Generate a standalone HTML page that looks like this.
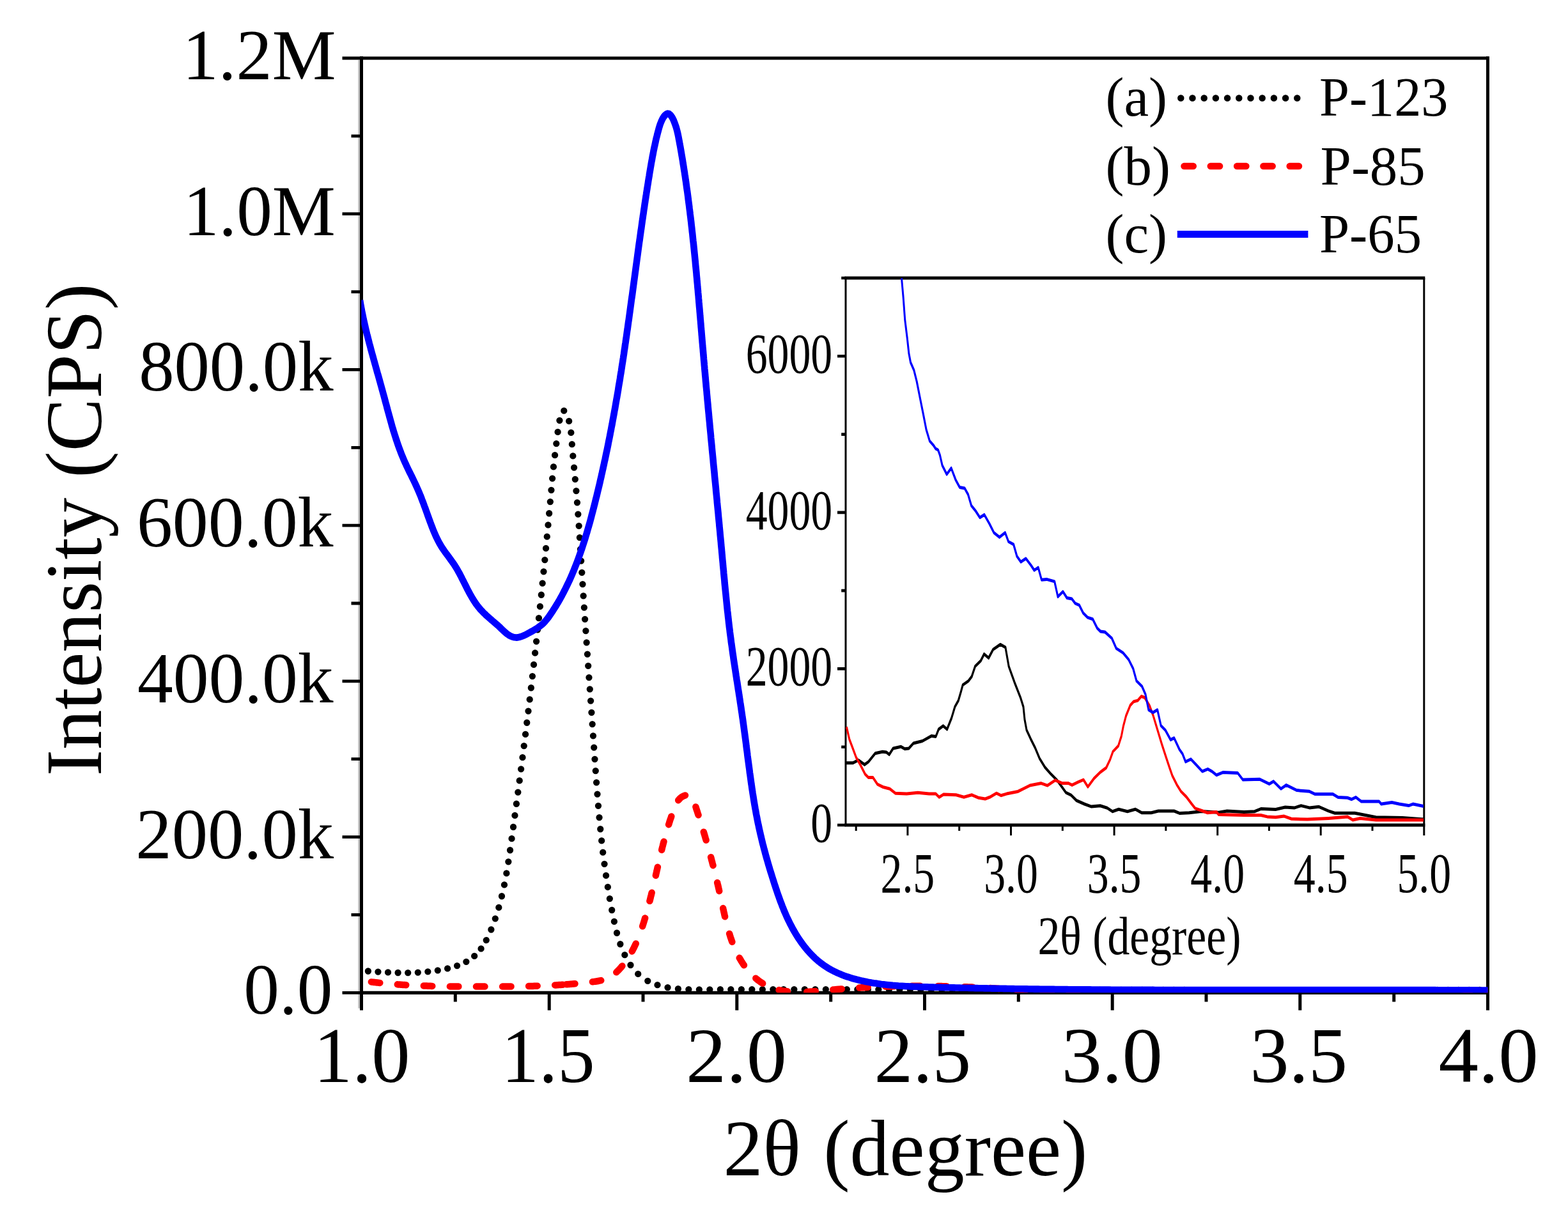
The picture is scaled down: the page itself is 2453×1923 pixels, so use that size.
<!DOCTYPE html>
<html><head><meta charset="utf-8"><title>XRD patterns</title>
<style>
html,body{margin:0;padding:0;background:#fff;}
body{width:2453px;height:1923px;overflow:hidden;}
svg{display:block;}
text{font-family:"Liberation Serif", "Times New Roman", serif;fill:#000;}
</style></head><body>
<svg width="2453" height="1923" viewBox="0 0 2453 1923">
<rect x="0" y="0" width="2453" height="1923" fill="#fff"/>

<rect x="560.2" y="93.7" width="2.8" height="1484" fill="#c0c0c0"/>
<g stroke="#000" fill="none">
<path d="M565.5,91.0 H2327.5 M565.5,1553.3 H2327.5" stroke-width="5.2"/>
<path d="M565.5,88.3 V1556.0 M2327.5,88.3 V1556.0" stroke-width="5.0"/>
<path d="M535.5,1553.3 H565.5 M549.5,1431.4 H565.5 M535.5,1309.6 H565.5 M549.5,1187.7 H565.5 M535.5,1065.9 H565.5 M549.5,944 H565.5 M535.5,822.1 H565.5 M549.5,700.3 H565.5 M535.5,578.4 H565.5 M549.5,456.6 H565.5 M535.5,334.7 H565.5 M549.5,212.9 H565.5 M535.5,91 H565.5" stroke-width="4.8"/>
<path d="M565.5,1553.3 V1580.7 M712.3,1553.3 V1567.5 M859.2,1553.3 V1580.7 M1006,1553.3 V1567.5 M1152.8,1553.3 V1580.7 M1299.7,1553.3 V1567.5 M1446.5,1553.3 V1580.7 M1593.3,1553.3 V1567.5 M1740.2,1553.3 V1580.7 M1887,1553.3 V1567.5 M2033.8,1553.3 V1580.7 M2180.7,1553.3 V1567.5 M2327.5,1553.3 V1580.7" stroke-width="5.0"/>
</g>
<defs><clipPath id="pc"><rect x="565.3" y="91.0" width="1762.2" height="1462.3"/></clipPath><clipPath id="ic"><rect x="1323.0" y="435.0" width="904.8000000000002" height="856.0"/></clipPath></defs>
<g fill="none" stroke-linejoin="round" clip-path="url(#pc)">
<path d="M567.9,1518.9 L569.9,1519.0 L571.9,1519.2 L574.0,1519.3 L576.0,1519.5 L578.0,1519.6 L580.0,1519.8 L582.0,1519.9 L584.0,1520.1 L586.1,1520.2 L588.1,1520.4 L590.1,1520.5 L592.1,1520.6 L594.1,1520.7 L596.1,1520.9 L598.1,1521.0 L600.1,1521.1 L602.1,1521.2 L604.0,1521.3 L606.0,1521.4 L608.0,1521.5 L610.0,1521.6 L612.0,1521.7 L614.0,1521.8 L616.0,1521.8 L617.9,1521.9 L619.9,1522.0 L621.9,1522.0 L623.9,1522.0 L625.9,1522.1 L627.9,1522.1 L629.8,1522.1 L631.8,1522.1 L633.8,1522.1 L635.8,1522.1 L637.8,1522.1 L639.7,1522.1 L641.7,1522.0 L643.7,1522.0 L645.7,1521.9 L647.7,1521.9 L649.6,1521.8 L651.6,1521.7 L653.6,1521.6 L655.6,1521.5 L657.6,1521.4 L659.6,1521.2 L661.6,1521.1 L663.5,1520.9 L665.5,1520.7 L667.5,1520.5 L669.5,1520.3 L671.5,1520.1 L673.5,1519.9 L675.5,1519.6 L677.5,1519.4 L679.5,1519.1 L681.5,1518.8 L683.5,1518.5 L685.5,1518.2 L687.5,1517.9 L689.6,1517.5 L691.6,1517.1 L693.6,1516.8 L695.6,1516.3 L697.6,1515.9 L699.6,1515.5 L701.6,1515.0 L703.6,1514.5 L705.6,1514.0 L707.5,1513.4 L709.5,1512.9 L711.4,1512.3 L713.3,1511.6 L715.2,1511.0 L717.1,1510.3 L719.0,1509.6 L720.9,1508.8 L722.7,1508.1 L724.5,1507.2 L726.3,1506.4 L728.0,1505.5 L729.8,1504.6 L731.5,1503.6 L733.1,1502.6 L734.8,1501.6 L736.4,1500.5 L737.9,1499.4 L739.5,1498.2 L741.0,1497.0 L742.4,1495.7 L743.8,1494.4 L745.2,1493.1 L746.6,1491.7 L747.9,1490.3 L749.1,1488.8 L750.4,1487.3 L751.6,1485.8 L752.7,1484.2 L753.9,1482.6 L755.0,1481.0 L756.1,1479.3 L757.1,1477.6 L758.1,1475.9" stroke="#000" stroke-width="10.3" stroke-linecap="round" stroke-dasharray="0 15.6" stroke-dashoffset="7.60"/>
<path d="M758.1,1475.9 L759.1,1474.2 L760.1,1472.4 L761.0,1470.6 L762.0,1468.8 L762.9,1467.0 L763.7,1465.2 L764.6,1463.3 L765.4,1461.5 L766.3,1459.6 L767.1,1457.7 L767.9,1455.8 L768.6,1453.9 L769.4,1452.0 L770.1,1450.1 L770.9,1448.2 L771.6,1446.3 L772.3,1444.4 L773.0,1442.5 L773.7,1440.6 L774.3,1438.7 L775.0,1436.8 L775.7,1434.9 L776.3,1433.0 L776.9,1431.1 L777.5,1429.2 L778.1,1427.2 L778.7,1425.3 L779.3,1423.4 L779.9,1421.5 L780.4,1419.6 L781.0,1417.6 L781.5,1415.7 L782.0,1413.8 L782.6,1411.8 L783.1,1409.9 L783.6,1408.0 L784.1,1406.0 L784.5,1404.1 L785.0,1402.1 L785.5,1400.2 L785.9,1398.3 L786.4,1396.3 L786.8,1394.4 L787.3,1392.4 L787.7,1390.5 L788.1,1388.5 L788.5,1386.6 L788.9,1384.6 L789.3,1382.7 L789.7,1380.7 L790.1,1378.8 L790.5,1376.8 L790.9,1374.8 L791.2,1372.9 L791.6,1370.9 L791.9,1369.0 L792.3,1367.0 L792.6,1365.0 L793.0,1363.1 L793.3,1361.1 L793.6,1359.1 L794.0,1357.2 L794.3,1355.2 L794.6,1353.2 L794.9,1351.3 L795.2,1349.3 L795.5,1347.3 L795.8,1345.4 L796.1,1343.4 L796.4,1341.4 L796.7,1339.5 L797.0,1337.5 L797.3,1335.5 L797.6,1333.5 L797.8,1331.6 L798.1,1329.6 L798.4,1327.6 L798.7,1325.6 L798.9,1323.7 L799.2,1321.7 L799.5,1319.7 L799.8,1317.7 L800.0,1315.7 L800.3,1313.8 L800.6,1311.8 L800.8,1309.8 L801.1,1307.8 L801.4,1305.9 L801.6,1303.9 L801.9,1301.9 L802.2,1299.9 L802.5,1297.9 L802.7,1296.0 L803.0,1294.0 L803.3,1292.0 L803.5,1290.0 L803.8,1288.0 L804.1,1286.1 L804.3,1284.1 L804.6,1282.1 L804.9,1280.1 L805.1,1278.1 L805.4,1276.2 L805.7,1274.2 L805.9,1272.2 L806.2,1270.2 L806.5,1268.2 L806.7,1266.2 L807.0,1264.3 L807.3,1262.3 L807.5,1260.3 L807.8,1258.3 L808.1,1256.3 L808.3,1254.4 L808.6,1252.4 L808.9,1250.4 L809.1,1248.4 L809.4,1246.4 L809.7,1244.4 L809.9,1242.5 L810.2,1240.5 L810.5,1238.5 L810.7,1236.5 L811.0,1234.5 L811.2,1232.6 L811.5,1230.6 L811.8,1228.6 L812.0,1226.6 L812.3,1224.6 L812.6,1222.6 L812.8,1220.7 L813.1,1218.7 L813.3,1216.7 L813.6,1214.7 L813.9,1212.7 L814.1,1210.7 L814.4,1208.8 L814.6,1206.8 L814.9,1204.8 L815.2,1202.8 L815.4,1200.8 L815.7,1198.8 L815.9,1196.9 L816.2,1194.9 L816.4,1192.9 L816.7,1190.9 L817.0,1188.9 L817.2,1186.9 L817.5,1185.0 L817.7,1183.0 L818.0,1181.0 L818.2,1179.0 L818.5,1177.0 L818.7,1175.0 L819.0,1173.1 L819.2,1171.1 L819.5,1169.1 L819.7,1167.1 L820.0,1165.1 L820.2,1163.1 L820.5,1161.1 L820.7,1159.2 L821.0,1157.2 L821.2,1155.2 L821.5,1153.2 L821.7,1151.2 L822.0,1149.2 L822.2,1147.3 L822.5,1145.3 L822.7,1143.3 L823.0,1141.3 L823.2,1139.3 L823.5,1137.3 L823.7,1135.4 L824.0,1133.4 L824.2,1131.4 L824.4,1129.4 L824.7,1127.4 L824.9,1125.4 L825.2,1123.5 L825.4,1121.5 L825.7,1119.5 L825.9,1117.5 L826.1,1115.5 L826.4,1113.5 L826.6,1111.6 L826.9,1109.6 L827.1,1107.6 L827.3,1105.6 L827.6,1103.6 L827.8,1101.6 L828.0,1099.7 L828.3,1097.7 L828.5,1095.7 L828.8,1093.7 L829.0,1091.7 L829.2,1089.7 L829.5,1087.7 L829.7,1085.8 L829.9,1083.8 L830.2,1081.8 L830.4,1079.8 L830.6,1077.8 L830.9,1075.8 L831.1,1073.9 L831.3,1071.9 L831.6,1069.9 L831.8,1067.9 L832.0,1065.9 L832.2,1063.9 L832.5,1062.0 L832.7,1060.0 L832.9,1058.0 L833.2,1056.0 L833.4,1054.0 L833.6,1052.0 L833.8,1050.0 L834.1,1048.1 L834.3,1046.1 L834.5,1044.1 L834.8,1042.1 L835.0,1040.1 L835.2,1038.1 L835.4,1036.2 L835.6,1034.2 L835.9,1032.2 L836.1,1030.2 L836.3,1028.2 L836.5,1026.2 L836.8,1024.2 L837.0,1022.3 L837.2,1020.3 L837.4,1018.3 L837.6,1016.3 L837.9,1014.3 L838.1,1012.3 L838.3,1010.3 L838.5,1008.4 L838.7,1006.4 L839.0,1004.4 L839.2,1002.4 L839.4,1000.4 L839.6,998.4 L839.8,996.4 L840.1,994.5 L840.3,992.5 L840.5,990.5 L840.7,988.5 L840.9,986.5 L841.1,984.5 L841.3,982.5 L841.6,980.5 L841.8,978.6 L842.0,976.6 L842.2,974.6 L842.4,972.6 L842.6,970.6 L842.8,968.6 L843.0,966.6 L843.3,964.7 L843.5,962.7 L843.7,960.7 L843.9,958.7 L844.1,956.7 L844.3,954.7 L844.5,952.7 L844.7,950.7 L844.9,948.8 L845.1,946.8 L845.3,944.8 L845.5,942.8 L845.8,940.8 L846.0,938.8 L846.2,936.8 L846.4,934.8 L846.6,932.9 L846.8,930.9 L847.0,928.9 L847.2,926.9 L847.4,924.9 L847.6,922.9 L847.8,920.9 L848.0,918.9 L848.2,916.9 L848.4,915.0 L848.6,913.0 L848.8,911.0 L849.0,909.0 L849.2,907.0 L849.4,905.0 L849.6,903.0 L849.8,901.0 L850.0,899.0 L850.2,897.1 L850.4,895.1 L850.6,893.1 L850.8,891.1 L851.0,889.1 L851.2,887.1 L851.4,885.1 L851.6,883.1 L851.8,881.1 L852.0,879.1 L852.2,877.2 L852.4,875.2 L852.6,873.2 L852.7,871.2 L852.9,869.2 L853.1,867.2 L853.3,865.2 L853.5,863.2 L853.7,861.2 L853.9,859.2 L854.1,857.2 L854.3,855.3 L854.5,853.3 L854.7,851.3 L854.9,849.3 L855.0,847.3 L855.2,845.3 L855.4,843.3 L855.6,841.3 L855.8,839.3 L856.0,837.3 L856.2,835.3 L856.4,833.4 L856.5,831.4 L856.7,829.4 L856.9,827.4 L857.1,825.4 L857.3,823.4 L857.5,821.4 L857.7,819.4 L857.8,817.4 L858.0,815.4 L858.2,813.4 L858.4,811.5 L858.6,809.5 L858.8,807.5 L858.9,805.5 L859.1,803.5 L859.3,801.5 L859.5,799.5 L859.7,797.5 L859.9,795.5 L860.0,793.5 L860.2,791.5 L860.4,789.6 L860.6,787.6 L860.8,785.6 L860.9,783.6 L861.1,781.6 L861.3,779.6 L861.5,777.6 L861.6,775.6 L861.8,773.6 L862.0,771.6 L862.2,769.6 L862.4,767.7 L862.5,765.7 L862.7,763.7 L862.9,761.7 L863.1,759.7 L863.2,757.7 L863.4,755.7 L863.6,753.7 L863.8,751.7 L864.0,749.7 L864.2,747.8 L864.4,745.8 L864.5,743.8 L864.7,741.8 L864.9,739.8 L865.1,737.8 L865.4,735.8 L865.6,733.8 L865.8,731.8 L866.0,729.8 L866.2,727.8 L866.5,725.8 L866.7,723.9 L866.9,721.9 L867.2,719.9 L867.4,717.9 L867.6,715.9 L867.9,713.9 L868.1,711.9 L868.4,710.0 L868.6,708.0 L868.9,706.0 L869.1,704.1 L869.3,702.1 L869.6,700.2 L869.8,698.2 L870.0,696.3 L870.3,694.3 L870.5,692.4 L870.7,690.4 L871.0,688.5 L871.2,686.5 L871.5,684.6 L871.7,682.6 L872.0,680.6 L872.2,678.6 L872.5,676.6 L872.8,674.5 L873.1,672.4 L873.4,670.3 L873.7,668.1 L874.0,665.9 L874.4,663.7 L874.8,661.4 L875.2,659.1 L875.6,656.7 L876.1,654.4 L876.5,652.1 L877.1,650.0 L877.6,648.0 L878.2,646.2 L878.8,644.7 L879.5,643.5 L880.2,642.7 L881.0,642.3 L881.8,642.4 L882.6,642.9 L883.5,643.8 L884.4,645.0 L885.3,646.5 L886.2,648.1 L887.0,649.9 L887.8,651.8 L888.5,653.7 L889.2,655.6 L889.8,657.6 L890.3,659.5 L890.8,661.5 L891.3,663.5 L891.7,665.5 L892.1,667.5 L892.4,669.5 L892.7,671.5 L892.9,673.5 L893.2,675.6 L893.4,677.6 L893.6,679.6 L893.8,681.7 L893.9,683.7 L894.1,685.8 L894.3,687.8 L894.4,689.8 L894.6,691.9 L894.7,693.9 L894.9,695.9 L895.0,698.0 L895.2,700.0 L895.4,702.0 L895.5,704.0 L895.7,706.0 L895.9,708.0 L896.0,710.0 L896.2,712.1 L896.4,714.1 L896.6,716.1 L896.8,718.1 L896.9,720.0 L897.1,722.0 L897.3,724.0 L897.5,726.0 L897.7,728.0 L897.9,730.0 L898.1,732.0 L898.3,734.0 L898.4,735.9 L898.6,737.9 L898.8,739.9 L899.0,741.9 L899.2,743.9 L899.4,745.8 L899.6,747.8 L899.8,749.8 L900.0,751.8 L900.1,753.8 L900.3,755.7 L900.5,757.7 L900.7,759.7 L900.9,761.7 L901.1,763.6 L901.2,765.6 L901.4,767.6 L901.6,769.6 L901.8,771.6 L901.9,773.5 L902.1,775.5 L902.3,777.5 L902.4,779.5 L902.6,781.5 L902.7,783.5 L902.9,785.5 L903.1,787.4 L903.2,789.4 L903.4,791.4 L903.5,793.4 L903.7,795.4 L903.8,797.4 L904.0,799.4 L904.1,801.4 L904.3,803.4 L904.4,805.3 L904.6,807.3 L904.7,809.3 L904.9,811.3 L905.0,813.3 L905.1,815.3 L905.3,817.3 L905.4,819.3 L905.5,821.3 L905.7,823.3 L905.8,825.3 L906.0,827.3 L906.1,829.3 L906.2,831.3 L906.4,833.3 L906.5,835.3 L906.6,837.3 L906.7,839.3 L906.9,841.3 L907.0,843.2 L907.1,845.2 L907.3,847.2 L907.4,849.2 L907.5,851.2 L907.6,853.2 L907.8,855.2 L907.9,857.2 L908.0,859.2 L908.1,861.2 L908.3,863.2 L908.4,865.2 L908.5,867.2 L908.6,869.2 L908.8,871.2 L908.9,873.2 L909.0,875.2 L909.1,877.2 L909.3,879.2 L909.4,881.2 L909.5,883.2 L909.6,885.2 L909.8,887.2 L909.9,889.2 L910.0,891.2 L910.1,893.2 L910.3,895.2 L910.4,897.2 L910.5,899.2 L910.7,901.2 L910.8,903.2 L910.9,905.2 L911.0,907.2 L911.2,909.2 L911.3,911.2 L911.4,913.2 L911.6,915.2 L911.7,917.2 L911.8,919.2 L911.9,921.2 L912.1,923.2 L912.2,925.2 L912.3,927.2 L912.5,929.1 L912.6,931.1 L912.7,933.1 L912.9,935.1 L913.0,937.1 L913.1,939.1 L913.3,941.1 L913.4,943.1 L913.5,945.1 L913.7,947.1 L913.8,949.1 L913.9,951.1 L914.1,953.1 L914.2,955.1 L914.3,957.1 L914.5,959.1 L914.6,961.1 L914.7,963.1 L914.9,965.1 L915.0,967.0 L915.1,969.0 L915.3,971.0 L915.4,973.0 L915.6,975.0 L915.7,977.0 L915.8,979.0 L916.0,981.0 L916.1,983.0 L916.2,985.0 L916.4,987.0 L916.5,989.0 L916.7,991.0 L916.8,993.0 L916.9,995.0 L917.1,997.0 L917.2,998.9 L917.3,1000.9 L917.5,1002.9 L917.6,1004.9 L917.8,1006.9 L917.9,1008.9 L918.0,1010.9 L918.2,1012.9 L918.3,1014.9 L918.5,1016.9 L918.6,1018.9 L918.7,1020.9 L918.9,1022.9 L919.0,1024.8 L919.2,1026.8 L919.3,1028.8 L919.4,1030.8 L919.6,1032.8 L919.7,1034.8 L919.9,1036.8 L920.0,1038.8 L920.1,1040.8 L920.3,1042.8 L920.4,1044.8 L920.6,1046.8 L920.7,1048.8 L920.8,1050.7 L921.0,1052.7 L921.1,1054.7 L921.3,1056.7 L921.4,1058.7 L921.5,1060.7 L921.7,1062.7 L921.8,1064.7 L922.0,1066.7 L922.1,1068.7 L922.3,1070.7 L922.4,1072.7 L922.5,1074.7 L922.7,1076.6 L922.8,1078.6 L923.0,1080.6 L923.1,1082.6 L923.2,1084.6 L923.4,1086.6 L923.5,1088.6 L923.7,1090.6 L923.8,1092.6 L924.0,1094.6 L924.1,1096.6 L924.2,1098.6 L924.4,1100.6 L924.5,1102.6 L924.7,1104.5 L924.8,1106.5 L924.9,1108.5 L925.1,1110.5 L925.2,1112.5 L925.4,1114.5 L925.5,1116.5 L925.6,1118.5 L925.8,1120.5 L925.9,1122.5 L926.1,1124.5 L926.2,1126.5 L926.3,1128.5 L926.5,1130.5 L926.6,1132.4 L926.8,1134.4 L926.9,1136.4 L927.1,1138.4 L927.2,1140.4 L927.3,1142.4 L927.5,1144.4 L927.6,1146.4 L927.8,1148.4 L927.9,1150.4 L928.0,1152.4 L928.2,1154.4 L928.3,1156.4 L928.4,1158.4 L928.6,1160.4 L928.7,1162.4 L928.9,1164.3 L929.0,1166.3 L929.1,1168.3 L929.3,1170.3 L929.4,1172.3 L929.6,1174.3 L929.7,1176.3 L929.8,1178.3 L930.0,1180.3 L930.1,1182.3 L930.2,1184.3 L930.4,1186.3 L930.5,1188.3 L930.7,1190.3 L930.8,1192.3 L930.9,1194.3 L931.1,1196.3 L931.2,1198.3 L931.4,1200.3 L931.5,1202.3 L931.6,1204.3 L931.8,1206.2 L931.9,1208.2 L932.1,1210.2 L932.2,1212.2 L932.4,1214.2 L932.5,1216.2 L932.7,1218.2 L932.8,1220.2 L932.9,1222.2 L933.1,1224.2 L933.2,1226.2 L933.4,1228.2 L933.5,1230.2 L933.7,1232.2 L933.8,1234.2 L934.0,1236.2 L934.1,1238.2 L934.3,1240.2 L934.5,1242.2 L934.6,1244.2 L934.8,1246.1 L934.9,1248.1 L935.1,1250.1 L935.2,1252.1 L935.4,1254.1 L935.6,1256.1 L935.7,1258.1 L935.9,1260.1 L936.1,1262.1 L936.2,1264.1 L936.4,1266.1 L936.6,1268.1 L936.8,1270.1 L936.9,1272.1 L937.1,1274.0 L937.3,1276.0 L937.5,1278.0 L937.6,1280.0 L937.8,1282.0 L938.0,1284.0 L938.2,1286.0 L938.4,1288.0 L938.6,1290.0 L938.8,1292.0 L939.0,1294.0 L939.2,1295.9 L939.3,1297.9 L939.5,1299.9 L939.7,1301.9 L940.0,1303.9 L940.2,1305.9 L940.4,1307.9 L940.6,1309.9 L940.8,1311.8 L941.0,1313.8 L941.2,1315.8 L941.4,1317.8 L941.6,1319.8 L941.9,1321.8 L942.1,1323.8 L942.3,1325.7 L942.5,1327.7 L942.8,1329.7 L943.0,1331.7 L943.2,1333.7 L943.5,1335.7 L943.7,1337.6 L944.0,1339.6 L944.2,1341.6 L944.5,1343.6 L944.7,1345.6 L945.0,1347.6 L945.2,1349.5 L945.5,1351.5 L945.8,1353.5 L946.0,1355.5 L946.3,1357.4 L946.6,1359.4 L946.8,1361.4 L947.1,1363.4 L947.4,1365.4 L947.7,1367.3 L948.0,1369.3 L948.2,1371.3 L948.5,1373.3 L948.8,1375.2 L949.1,1377.2 L949.4,1379.2 L949.7,1381.2 L950.0,1383.1 L950.3,1385.1 L950.7,1387.1 L951.0,1389.0 L951.3,1391.0 L951.6,1393.0 L952.0,1395.0 L952.3,1396.9 L952.6,1398.9 L953.0,1400.9 L953.3,1402.8 L953.6,1404.8 L954.0,1406.8 L954.3,1408.7 L954.7,1410.7 L955.1,1412.7 L955.4,1414.6 L955.8,1416.6 L956.2,1418.5 L956.5,1420.5 L956.9,1422.5 L957.3,1424.4 L957.7,1426.4 L958.1,1428.3 L958.5,1430.3 L958.9,1432.3 L959.3,1434.2 L959.7,1436.2 L960.1,1438.1 L960.5,1440.1 L960.9,1442.0 L961.3,1444.0 L961.8,1446.0 L962.2,1447.9 L962.7,1449.9 L963.1,1451.8 L963.6,1453.7 L964.0,1455.7 L964.5,1457.6 L965.0,1459.6 L965.5,1461.5 L966.1,1463.4 L966.6,1465.3 L967.1,1467.2 L967.7,1469.1 L968.3,1471.1 L968.9,1472.9 L969.5,1474.8 L970.2,1476.7 L970.8,1478.6 L971.5,1480.5 L972.2,1482.3 L972.9,1484.2 L973.7,1486.0 L974.5,1487.9 L975.2,1489.7 L976.1,1491.5 L976.9,1493.3 L977.8,1495.1 L978.7,1496.9 L979.6,1498.7 L980.6,1500.5 L981.6,1502.2 L982.6,1504.0 L983.7,1505.7 L984.8,1507.4 L985.9,1509.1 L987.0,1510.8 L988.2,1512.5 L989.4,1514.1 L990.7,1515.7 L992.0,1517.3 L993.3,1518.8 L994.7,1520.4 L996.1,1521.8 L997.5,1523.3 L999.0,1524.7 L1000.4,1526.0" stroke="#000" stroke-width="10.3" stroke-linecap="round" stroke-dasharray="0 18.3" stroke-dashoffset="12.84"/>
<path d="M1000.4,1526.0 L1002.0,1527.4 L1003.6,1528.6 L1005.2,1529.8 L1006.8,1531.0 L1008.5,1532.1 L1010.2,1533.1 L1011.9,1534.1 L1013.7,1535.1 L1015.5,1536.0 L1017.3,1536.8 L1019.1,1537.6 L1021.0,1538.4 L1022.8,1539.1 L1024.7,1539.8 L1026.6,1540.5 L1028.4,1541.1 L1030.3,1541.7 L1032.2,1542.2 L1034.1,1542.7 L1036.0,1543.2 L1037.9,1543.7 L1039.8,1544.1 L1041.7,1544.5 L1043.7,1544.9 L1045.6,1545.3 L1047.5,1545.6 L1049.5,1545.9 L1051.4,1546.2 L1053.4,1546.4 L1055.3,1546.7 L1057.3,1546.9 L1059.3,1547.1 L1061.2,1547.3 L1063.2,1547.4 L1065.2,1547.6 L1067.2,1547.7 L1069.2,1547.8 L1071.1,1547.9 L1073.1,1548.0 L1075.1,1548.0 L1077.1,1548.1 L1079.1,1548.1 L1081.1,1548.2 L1083.1,1548.2 L1085.1,1548.2 L1087.1,1548.3 L1089.1,1548.3 L1091.1,1548.3 L1093.1,1548.3 L1095.1,1548.3 L1097.2,1548.3 L1099.2,1548.3 L1101.2,1548.3 L1103.2,1548.3 L1105.2,1548.3 L1107.2,1548.3 L1109.2,1548.3 L1111.2,1548.3 L1113.2,1548.2 L1115.2,1548.2 L1117.2,1548.2 L1119.2,1548.2 L1121.2,1548.2 L1123.2,1548.2 L1125.2,1548.2 L1127.3,1548.2 L1129.3,1548.2 L1131.3,1548.2 L1133.3,1548.2 L1135.3,1548.2 L1137.3,1548.2 L1139.3,1548.2 L1141.3,1548.2 L1143.3,1548.2 L1145.3,1548.2 L1147.3,1548.2 L1149.3,1548.2 L1151.3,1548.2 L1153.3,1548.2 L1155.3,1548.2 L1157.3,1548.2 L1159.3,1548.2 L1161.4,1548.2 L1163.4,1548.2 L1165.4,1548.2 L1167.4,1548.2 L1169.4,1548.2 L1171.4,1548.2 L1173.4,1548.2 L1175.4,1548.2 L1177.4,1548.2 L1179.4,1548.2 L1181.4,1548.2 L1183.4,1548.2 L1185.4,1548.2 L1187.4,1548.2 L1189.4,1548.2 L1191.4,1548.2 L1193.4,1548.2 L1195.4,1548.2 L1197.4,1548.1 L1199.4,1548.1 L1201.4,1548.1 L1203.4,1548.1 L1205.4,1548.1 L1207.5,1548.1 L1209.5,1548.1 L1211.5,1548.1 L1213.5,1548.1 L1215.5,1548.1 L1217.5,1548.1 L1219.5,1548.1 L1221.5,1548.1 L1223.5,1548.1 L1225.5,1548.1 L1227.5,1548.1 L1229.5,1548.1 L1231.5,1548.1 L1233.5,1548.1 L1235.5,1548.1 L1237.5,1548.1 L1239.5,1548.1 L1241.5,1548.1 L1243.5,1548.1 L1245.5,1548.1 L1247.5,1548.1 L1249.5,1548.1 L1251.5,1548.1 L1253.5,1548.1 L1255.5,1548.1 L1257.5,1548.1 L1259.5,1548.1 L1261.5,1548.1 L1263.5,1548.1 L1265.5,1548.1 L1267.5,1548.1 L1269.5,1548.1 L1271.5,1548.1 L1273.5,1548.1 L1275.5,1548.1 L1277.5,1548.1 L1279.5,1548.1 L1281.5,1548.1 L1283.5,1548.1 L1285.5,1548.1 L1287.5,1548.1 L1289.5,1548.1 L1291.5,1548.1 L1293.5,1548.1 L1295.5,1548.1 L1297.5,1548.1 L1299.5,1548.1 L1301.5,1548.1 L1303.6,1548.1 L1305.6,1548.1 L1307.6,1548.1 L1309.6,1548.1 L1311.6,1548.1 L1313.6,1548.1 L1315.6,1548.1 L1317.6,1548.1 L1319.6,1548.1 L1321.6,1548.1 L1323.6,1548.1 L1325.6,1548.1 L1327.6,1548.1 L1329.6,1548.1 L1331.6,1548.2 L1333.6,1548.2 L1335.6,1548.2 L1337.6,1548.2 L1339.6,1548.2 L1341.6,1548.2 L1343.6,1548.2 L1345.6,1548.2 L1347.6,1548.2 L1349.6,1548.2 L1351.6,1548.2 L1353.6,1548.2 L1355.6,1548.2 L1357.6,1548.2 L1359.5,1548.2 L1361.5,1548.2 L1363.5,1548.2 L1365.5,1548.2 L1367.5,1548.2 L1369.5,1548.2 L1371.5,1548.2 L1373.5,1548.2 L1375.5,1548.2 L1377.5,1548.2 L1379.5,1548.2 L1381.5,1548.2 L1383.5,1548.2 L1385.5,1548.2 L1387.5,1548.2 L1389.5,1548.2 L1391.5,1548.2 L1393.5,1548.2 L1395.5,1548.2 L1397.5,1548.2 L1399.5,1548.2 L1401.5,1548.2 L1403.5,1548.2 L1405.5,1548.2 L1407.5,1548.2 L1409.5,1548.2 L1411.5,1548.2 L1413.5,1548.2 L1415.5,1548.2 L1417.5,1548.2 L1419.5,1548.2 L1421.5,1548.2 L1423.5,1548.2 L1425.5,1548.2 L1427.5,1548.2 L1429.5,1548.2 L1431.5,1548.3 L1433.5,1548.3 L1435.5,1548.3 L1437.5,1548.3 L1439.5,1548.3 L1441.5,1548.3 L1443.5,1548.3 L1445.5,1548.3 L1447.5,1548.3 L1449.5,1548.3 L1451.5,1548.3 L1453.5,1548.3 L1455.5,1548.3 L1457.5,1548.3 L1459.5,1548.3 L1461.5,1548.3 L1463.5,1548.3 L1465.5,1548.3 L1467.5,1548.3 L1469.5,1548.3 L1471.4,1548.3 L1473.4,1548.3 L1475.4,1548.3 L1477.4,1548.3 L1479.4,1548.3 L1481.4,1548.3 L1483.4,1548.3 L1485.4,1548.3 L1487.4,1548.3 L1489.4,1548.3 L1491.4,1548.3 L1493.4,1548.3 L1495.4,1548.3 L1497.4,1548.4 L1499.4,1548.4 L1501.4,1548.4 L1503.4,1548.4 L1505.4,1548.4 L1507.4,1548.4 L1509.4,1548.4 L1511.4,1548.4 L1513.4,1548.4 L1515.4,1548.4 L1517.4,1548.4 L1519.4,1548.4 L1521.4,1548.4 L1523.4,1548.4 L1525.4,1548.4 L1527.4,1548.4 L1529.4,1548.4 L1531.4,1548.4 L1533.3,1548.4 L1535.3,1548.4 L1537.3,1548.4 L1539.3,1548.4 L1541.3,1548.4 L1543.3,1548.4 L1545.3,1548.4 L1547.3,1548.4 L1549.3,1548.4 L1551.3,1548.4 L1553.3,1548.5 L1555.3,1548.5 L1557.3,1548.5 L1559.3,1548.5 L1561.3,1548.5 L1563.3,1548.5 L1565.3,1548.5 L1567.3,1548.5 L1569.3,1548.5 L1571.3,1548.5 L1573.3,1548.5 L1575.3,1548.5 L1577.3,1548.5 L1579.3,1548.5 L1581.3,1548.5 L1583.3,1548.5 L1585.2,1548.5 L1587.2,1548.5 L1589.2,1548.5 L1591.2,1548.5 L1593.2,1548.5 L1595.2,1548.5 L1597.2,1548.5 L1599.2,1548.5 L1601.2,1548.5 L1603.2,1548.5 L1605.2,1548.6 L1607.2,1548.6 L1609.2,1548.6 L1611.2,1548.6 L1613.2,1548.6 L1615.2,1548.6 L1617.2,1548.6 L1619.2,1548.6 L1621.2,1548.6 L1623.2,1548.6 L1625.2,1548.6 L1627.2,1548.6 L1629.2,1548.6 L1631.1,1548.6 L1633.1,1548.6 L1635.1,1548.6 L1637.1,1548.6 L1639.1,1548.6 L1641.1,1548.6 L1643.1,1548.6 L1645.1,1548.6 L1647.1,1548.6 L1649.1,1548.6 L1651.1,1548.6 L1653.1,1548.6 L1655.1,1548.7 L1657.1,1548.7 L1659.1,1548.7 L1661.1,1548.7 L1663.1,1548.7 L1665.1,1548.7 L1667.1,1548.7 L1669.1,1548.7 L1671.1,1548.7 L1673.1,1548.7 L1675.1,1548.7 L1677.0,1548.7 L1679.0,1548.7 L1681.0,1548.7 L1683.0,1548.7 L1685.0,1548.7 L1687.0,1548.7 L1689.0,1548.7 L1691.0,1548.7 L1693.0,1548.7 L1695.0,1548.7 L1697.0,1548.7 L1699.0,1548.7 L1701.0,1548.7 L1703.0,1548.7 L1705.0,1548.8 L1707.0,1548.8 L1709.0,1548.8 L1711.0,1548.8 L1713.0,1548.8 L1715.0,1548.8 L1717.0,1548.8 L1719.0,1548.8 L1720.9,1548.8 L1722.9,1548.8 L1724.9,1548.8 L1726.9,1548.8 L1728.9,1548.8 L1730.9,1548.8 L1732.9,1548.8 L1734.9,1548.8 L1736.9,1548.8 L1738.9,1548.8 L1740.9,1548.8 L1742.9,1548.8 L1744.9,1548.8 L1746.9,1548.8 L1748.9,1548.8 L1750.9,1548.8 L1752.9,1548.8 L1754.9,1548.9 L1756.9,1548.9 L1758.9,1548.9 L1760.9,1548.9 L1762.9,1548.9 L1764.9,1548.9 L1766.8,1548.9 L1768.8,1548.9 L1770.8,1548.9 L1772.8,1548.9 L1774.8,1548.9 L1776.8,1548.9 L1778.8,1548.9 L1780.8,1548.9 L1782.8,1548.9 L1784.8,1548.9 L1786.8,1548.9 L1788.8,1548.9 L1790.8,1548.9 L1792.8,1548.9 L1794.8,1548.9 L1796.8,1548.9 L1798.8,1548.9 L1800.8,1548.9 L1802.8,1548.9 L1804.8,1548.9 L1806.8,1548.9 L1808.8,1549.0 L1810.8,1549.0 L1812.7,1549.0 L1814.7,1549.0 L1816.7,1549.0 L1818.7,1549.0 L1820.7,1549.0 L1822.7,1549.0 L1824.7,1549.0 L1826.7,1549.0 L1828.7,1549.0 L1830.7,1549.0 L1832.7,1549.0 L1834.7,1549.0 L1836.7,1549.0 L1838.7,1549.0 L1840.7,1549.0 L1842.7,1549.0 L1844.7,1549.0 L1846.7,1549.0 L1848.7,1549.0 L1850.7,1549.0 L1852.7,1549.0 L1854.7,1549.0 L1856.7,1549.0 L1858.7,1549.0 L1860.7,1549.0 L1862.7,1549.0 L1864.6,1549.0 L1866.6,1549.0 L1868.6,1549.1 L1870.6,1549.1 L1872.6,1549.1 L1874.6,1549.1 L1876.6,1549.1 L1878.6,1549.1 L1880.6,1549.1 L1882.6,1549.1 L1884.6,1549.1 L1886.6,1549.1 L1888.6,1549.1 L1890.6,1549.1 L1892.6,1549.1 L1894.6,1549.1 L1896.6,1549.1 L1898.6,1549.1 L1900.6,1549.1 L1902.6,1549.1 L1904.6,1549.1 L1906.6,1549.1 L1908.6,1549.1 L1910.6,1549.1 L1912.6,1549.1 L1914.6,1549.1 L1916.6,1549.1 L1918.6,1549.1 L1920.6,1549.1 L1922.6,1549.1 L1924.6,1549.1 L1926.5,1549.1 L1928.5,1549.1 L1930.5,1549.1 L1932.5,1549.1 L1934.5,1549.1 L1936.5,1549.1 L1938.5,1549.1 L1940.5,1549.1 L1942.5,1549.1 L1944.5,1549.2 L1946.5,1549.2 L1948.5,1549.2 L1950.5,1549.2 L1952.5,1549.2 L1954.5,1549.2 L1956.5,1549.2 L1958.5,1549.2 L1960.5,1549.2 L1962.5,1549.2 L1964.5,1549.2 L1966.5,1549.2 L1968.5,1549.2 L1970.5,1549.2 L1972.5,1549.2 L1974.5,1549.2 L1976.5,1549.2 L1978.5,1549.2 L1980.5,1549.2 L1982.5,1549.2 L1984.5,1549.2 L1986.5,1549.2 L1988.5,1549.2 L1990.5,1549.2 L1992.5,1549.2 L1994.5,1549.2 L1996.5,1549.2 L1998.5,1549.2 L2000.5,1549.2 L2002.5,1549.2 L2004.5,1549.2 L2006.5,1549.2 L2008.5,1549.2 L2010.5,1549.2 L2012.5,1549.2 L2014.5,1549.2 L2016.5,1549.2 L2018.5,1549.2 L2020.5,1549.2 L2022.5,1549.2 L2024.5,1549.2 L2026.5,1549.2 L2028.5,1549.2 L2030.5,1549.2 L2032.5,1549.2 L2034.5,1549.2 L2036.5,1549.2 L2038.5,1549.2 L2040.5,1549.2 L2042.5,1549.2 L2044.4,1549.2 L2046.4,1549.2 L2048.4,1549.2 L2050.4,1549.2 L2052.4,1549.2 L2054.4,1549.2 L2056.4,1549.2 L2058.4,1549.2 L2060.4,1549.2 L2062.4,1549.2 L2064.4,1549.2 L2066.4,1549.2 L2068.4,1549.2 L2070.4,1549.2 L2072.4,1549.2 L2074.4,1549.2 L2076.4,1549.2 L2078.4,1549.2 L2080.4,1549.2 L2082.4,1549.2 L2084.4,1549.2 L2086.4,1549.2 L2088.5,1549.2 L2090.5,1549.2 L2092.5,1549.2 L2094.5,1549.2 L2096.5,1549.2 L2098.5,1549.2 L2100.5,1549.2 L2102.5,1549.2 L2104.5,1549.2 L2106.5,1549.2 L2108.5,1549.2 L2110.5,1549.2 L2112.5,1549.2 L2114.5,1549.2 L2116.5,1549.2 L2118.5,1549.2 L2120.5,1549.2 L2122.5,1549.2 L2124.5,1549.2 L2126.5,1549.2 L2128.5,1549.2 L2130.5,1549.2 L2132.5,1549.2 L2134.5,1549.2 L2136.5,1549.2 L2138.5,1549.2 L2140.5,1549.2 L2142.5,1549.2 L2144.5,1549.2 L2146.5,1549.2 L2148.5,1549.2 L2150.5,1549.2 L2152.5,1549.2 L2154.5,1549.2 L2156.5,1549.2 L2158.5,1549.2 L2160.5,1549.2 L2162.5,1549.2 L2164.5,1549.2 L2166.5,1549.2 L2168.5,1549.2 L2170.5,1549.2 L2172.5,1549.2 L2174.5,1549.2 L2176.5,1549.2 L2178.5,1549.2 L2180.5,1549.2 L2182.5,1549.2 L2184.5,1549.2 L2186.5,1549.1 L2188.6,1549.1 L2190.6,1549.1 L2192.6,1549.1 L2194.6,1549.1 L2196.6,1549.1 L2198.6,1549.1 L2200.6,1549.1 L2202.6,1549.1 L2204.6,1549.1 L2206.6,1549.1 L2208.6,1549.1 L2210.6,1549.1 L2212.6,1549.1 L2214.6,1549.1 L2216.6,1549.1 L2218.6,1549.1 L2220.6,1549.1 L2222.6,1549.1 L2224.6,1549.1 L2226.6,1549.1 L2228.6,1549.1 L2230.6,1549.1 L2232.6,1549.1 L2234.7,1549.1 L2236.7,1549.1 L2238.7,1549.1 L2240.7,1549.1 L2242.7,1549.1 L2244.7,1549.0 L2246.7,1549.0 L2248.7,1549.0 L2250.7,1549.0 L2252.7,1549.0 L2254.7,1549.0 L2256.7,1549.0 L2258.7,1549.0 L2260.7,1549.0 L2262.7,1549.0 L2264.7,1549.0 L2266.7,1549.0 L2268.7,1549.0 L2270.8,1549.0 L2272.8,1549.0 L2274.8,1549.0 L2276.8,1549.0 L2278.8,1549.0 L2280.8,1549.0 L2282.8,1549.0 L2284.8,1549.0 L2286.8,1548.9 L2288.8,1548.9 L2290.8,1548.9 L2292.8,1548.9 L2294.8,1548.9 L2296.8,1548.9 L2298.9,1548.9 L2300.9,1548.9 L2302.9,1548.9 L2304.9,1548.9 L2306.9,1548.9 L2308.9,1548.9 L2310.9,1548.9 L2312.9,1548.9 L2314.9,1548.9 L2316.9,1548.9 L2318.9,1548.9 L2320.9,1548.8 L2322.9,1548.8 L2325.0,1548.8 L2327.0,1548.8 L2329.0,1548.8 L2331.0,1548.8 L2333.0,1548.8 L2335.0,1548.8" stroke="#000" stroke-width="10.3" stroke-linecap="round" stroke-dasharray="0 16.5" stroke-dashoffset="0.83"/>
<path d="M566.0,1534.5 L567.5,1534.7 L569.0,1534.9 L570.5,1535.1 L572.0,1535.3 L573.4,1535.5 L574.9,1535.7 L576.4,1535.9 L577.9,1536.1 L579.4,1536.3 L580.9,1536.4 L582.4,1536.6 L583.9,1536.8 L585.3,1537.0 L586.8,1537.1 L588.3,1537.3 L589.8,1537.5 L591.3,1537.6 L592.8,1537.8 L594.3,1537.9 L595.8,1538.1 L597.3,1538.3 L598.8,1538.4 L600.2,1538.5 L601.7,1538.7 L603.2,1538.8 L604.7,1539.0 L606.2,1539.1 L607.7,1539.2 L609.2,1539.4 L610.7,1539.5 L612.2,1539.6 L613.7,1539.7 L615.2,1539.8 L616.7,1540.0 L618.2,1540.1 L619.7,1540.2 L621.2,1540.3 L622.7,1540.4 L624.1,1540.5 L625.6,1540.6 L627.1,1540.7 L628.6,1540.8 L630.1,1540.9 L631.6,1541.0 L633.1,1541.1 L634.6,1541.2 L636.1,1541.3 L637.6,1541.3 L639.1,1541.4 L640.6,1541.5 L642.1,1541.6 L643.6,1541.7 L645.1,1541.7 L646.6,1541.8 L648.1,1541.9 L649.6,1542.0 L651.1,1542.0 L652.6,1542.1 L654.1,1542.1 L655.6,1542.2 L657.1,1542.3 L658.6,1542.3 L660.1,1542.4 L661.6,1542.4 L663.1,1542.5 L664.6,1542.5 L666.1,1542.6 L667.6,1542.6 L669.1,1542.7 L670.6,1542.7 L672.1,1542.8 L673.6,1542.8 L675.1,1542.9 L676.6,1542.9 L678.1,1542.9 L679.6,1543.0 L681.1,1543.0 L682.6,1543.0 L684.1,1543.1 L685.6,1543.1 L687.1,1543.1 L688.6,1543.2 L690.1,1543.2 L691.6,1543.2 L693.1,1543.2 L694.6,1543.3 L696.1,1543.3 L697.6,1543.3 L699.1,1543.3 L700.6,1543.3 L702.1,1543.4 L703.6,1543.4 L705.1,1543.4 L706.6,1543.4 L708.1,1543.4 L709.6,1543.4 L711.1,1543.5 L712.6,1543.5 L714.1,1543.5 L715.6,1543.5 L717.1,1543.5 L718.6,1543.5 L720.1,1543.5 L721.6,1543.5 L723.1,1543.5 L724.6,1543.6 L726.1,1543.6 L727.6,1543.6 L729.1,1543.6 L730.6,1543.6 L732.1,1543.6 L733.6,1543.6 L735.1,1543.6 L736.6,1543.6 L738.1,1543.6 L739.6,1543.6 L741.1,1543.6 L742.6,1543.6 L744.1,1543.6 L745.6,1543.6 L747.1,1543.6 L748.6,1543.6 L750.1,1543.6 L751.6,1543.6 L753.1,1543.6 L754.6,1543.6 L756.1,1543.6 L757.6,1543.6 L759.1,1543.6 L760.6,1543.6 L762.1,1543.6 L763.6,1543.6 L765.1,1543.6 L766.6,1543.6 L768.1,1543.6 L769.6,1543.6 L771.1,1543.6 L772.6,1543.6 L774.1,1543.6 L775.6,1543.6 L777.1,1543.6 L778.6,1543.6 L780.1,1543.6 L781.6,1543.6 L783.1,1543.6 L784.6,1543.6 L786.1,1543.6 L787.6,1543.6 L789.1,1543.6 L790.6,1543.5 L792.1,1543.5 L793.6,1543.5 L795.1,1543.5 L796.6,1543.5 L798.1,1543.5 L799.6,1543.5 L801.1,1543.5 L802.6,1543.4 L804.1,1543.4 L805.5,1543.4 L807.0,1543.4 L808.5,1543.4 L810.0,1543.4 L811.5,1543.3 L813.0,1543.3 L814.5,1543.3 L816.0,1543.3 L817.5,1543.2 L819.0,1543.2 L820.5,1543.2 L822.0,1543.1 L823.5,1543.1 L825.0,1543.1 L826.5,1543.1 L828.0,1543.0 L829.5,1543.0 L831.0,1542.9 L832.5,1542.9 L834.0,1542.9 L835.5,1542.8 L837.0,1542.8 L838.5,1542.7 L840.0,1542.7 L841.5,1542.6 L843.0,1542.6 L844.5,1542.5 L846.0,1542.5 L847.5,1542.4 L849.0,1542.4 L850.5,1542.3 L852.0,1542.2 L853.5,1542.2 L855.0,1542.1 L856.5,1542.0 L857.9,1542.0 L859.4,1541.9 L860.9,1541.8 L862.4,1541.8 L863.9,1541.7 L865.4,1541.6 L866.9,1541.5 L868.4,1541.4 L869.9,1541.4 L871.4,1541.3 L872.9,1541.2 L874.4,1541.1 L875.9,1541.0 L877.4,1540.9 L878.9,1540.8 L880.4,1540.7" stroke="#f00" stroke-width="10.5" stroke-linecap="round" stroke-dasharray="13.5 27.6" stroke-dashoffset="-15.00"/>
<path d="M880.4,1540.7 L881.9,1540.6 L883.4,1540.5 L884.9,1540.4 L886.4,1540.3 L887.9,1540.2 L889.4,1540.1 L890.9,1539.9 L892.4,1539.8 L893.9,1539.7 L895.4,1539.6 L896.9,1539.5 L898.4,1539.3 L899.9,1539.2 L901.4,1539.1 L902.9,1538.9 L904.4,1538.8 L905.9,1538.6 L907.4,1538.5 L908.9,1538.3 L910.4,1538.2 L911.9,1538.0 L913.4,1537.9 L914.9,1537.7 L916.4,1537.6 L917.9,1537.4 L919.4,1537.2 L920.9,1537.0 L922.4,1536.9 L923.9,1536.7 L925.4,1536.5 L926.9,1536.3 L928.4,1536.1 L929.9,1535.9 L931.4,1535.7 L932.9,1535.5 L934.4,1535.3 L935.8,1535.0 L937.3,1534.7 L938.8,1534.4 L940.2,1534.1 L941.7,1533.8 L943.1,1533.4 L944.5,1533.0 L945.9,1532.6 L947.3,1532.1 L948.7,1531.6 L950.0,1531.0 L951.4,1530.4 L952.7,1529.8 L954.0,1529.1 L955.3,1528.3 L956.5,1527.5 L957.8,1526.7 L959.0,1525.8 L960.2,1524.9 L961.3,1524.0 L962.5,1523.0 L963.6,1521.9 L964.7,1520.9 L965.8,1519.8 L966.9,1518.7 L968.0,1517.6 L969.0,1516.5 L970.1,1515.4 L971.1,1514.2 L972.1,1513.1 L973.0,1511.9 L974.0,1510.8 L975.0,1509.6 L975.9,1508.4 L976.8,1507.2 L977.7,1506.0 L978.6,1504.8 L979.5,1503.6 L980.3,1502.3 L981.2,1501.1 L982.0,1499.8 L982.8,1498.6 L983.6,1497.3 L984.4,1496.1 L985.2,1494.8 L986.0,1493.5 L986.7,1492.2 L987.5,1490.9 L988.2,1489.6 L988.9,1488.3 L989.6,1487.0 L990.3,1485.6 L991.0,1484.3 L991.7,1483.0 L992.3,1481.6 L993.0,1480.3 L993.6,1478.9 L994.2,1477.6 L994.9,1476.2 L995.5,1474.9 L996.1,1473.5 L996.7,1472.1 L997.2,1470.7 L997.8,1469.3 L998.4,1467.9 L998.9,1466.6 L999.5,1465.2 L1000.0,1463.8" stroke="#f00" stroke-width="10.5" stroke-linecap="round" stroke-dasharray="13.5 27.6" stroke-dashoffset="35.44"/>
<path d="M1000.0,1463.8 L1000.6,1462.3 L1001.1,1460.9 L1001.6,1459.5 L1002.1,1458.1 L1002.6,1456.7 L1003.1,1455.3 L1003.6,1453.9 L1004.1,1452.4 L1004.6,1451.0 L1005.1,1449.6 L1005.5,1448.1 L1006.0,1446.7 L1006.4,1445.3 L1006.9,1443.8 L1007.3,1442.4 L1007.8,1441.0 L1008.2,1439.5 L1008.7,1438.1 L1009.1,1436.7 L1009.5,1435.2 L1009.9,1433.8 L1010.4,1432.3 L1010.8,1430.9 L1011.2,1429.4 L1011.6,1428.0 L1012.0,1426.5 L1012.4,1425.1 L1012.8,1423.7 L1013.2,1422.2 L1013.6,1420.8 L1014.0,1419.3 L1014.3,1417.9 L1014.7,1416.4 L1015.1,1415.0 L1015.5,1413.5 L1015.9,1412.0 L1016.2,1410.6 L1016.6,1409.1 L1017.0,1407.7 L1017.3,1406.2 L1017.7,1404.8 L1018.0,1403.3 L1018.4,1401.9 L1018.8,1400.4 L1019.1,1398.9 L1019.5,1397.5 L1019.8,1396.0 L1020.2,1394.6 L1020.5,1393.1 L1020.8,1391.7 L1021.2,1390.2 L1021.5,1388.7 L1021.9,1387.3 L1022.2,1385.8 L1022.5,1384.4 L1022.9,1382.9 L1023.2,1381.4 L1023.6,1380.0 L1023.9,1378.5 L1024.2,1377.1 L1024.6,1375.6 L1024.9,1374.1 L1025.2,1372.7 L1025.6,1371.2 L1025.9,1369.7 L1026.2,1368.3 L1026.5,1366.8 L1026.9,1365.4 L1027.2,1363.9 L1027.5,1362.4 L1027.9,1361.0 L1028.2,1359.5 L1028.5,1358.1 L1028.9,1356.6 L1029.2,1355.1 L1029.5,1353.7 L1029.9,1352.2 L1030.2,1350.7 L1030.5,1349.3 L1030.9,1347.8 L1031.2,1346.4 L1031.6,1344.9 L1031.9,1343.5 L1032.3,1342.0 L1032.6,1340.5 L1032.9,1339.1 L1033.3,1337.6 L1033.6,1336.2 L1034.0,1334.7 L1034.3,1333.3 L1034.7,1331.8 L1035.1,1330.3 L1035.4,1328.9 L1035.8,1327.4 L1036.1,1326.0 L1036.5,1324.5 L1036.9,1323.1 L1037.2,1321.6 L1037.6,1320.2 L1038.0,1318.7 L1038.4,1317.3 L1038.7,1315.8 L1039.1,1314.4 L1039.5,1312.9 L1039.9,1311.5 L1040.3,1310.0 L1040.7,1308.6 L1041.1,1307.1 L1041.5,1305.7 L1041.9,1304.3 L1042.3,1302.8 L1042.7,1301.4 L1043.2,1299.9 L1043.6,1298.5 L1044.0,1297.1 L1044.4,1295.6 L1044.9,1294.2 L1045.3,1292.8 L1045.8,1291.3 L1046.2,1289.9 L1046.7,1288.5 L1047.1,1287.0 L1047.6,1285.6 L1048.0,1284.2 L1048.5,1282.7 L1049.0,1281.3 L1049.5,1279.9 L1050.0,1278.5 L1050.4,1277.0 L1050.9,1275.6 L1051.4,1274.2 L1052.0,1272.8 L1052.5,1271.4 L1053.0,1270.0 L1053.5,1268.5 L1054.0,1267.1 L1054.6,1265.7 L1055.1,1264.3 L1055.7,1262.9 L1056.2,1261.5 L1056.8,1260.1 L1057.4,1258.7 L1058.1,1257.4 L1058.7,1256.1 L1059.5,1254.8 L1060.2,1253.5 L1061.1,1252.3 L1062.0,1251.2 L1063.0,1250.1 L1064.0,1249.0 L1065.2,1248.0 L1066.4,1247.1 L1067.8,1246.3 L1069.2,1245.6 L1070.7,1244.9 L1072.2,1244.4 L1073.7,1244.1 L1075.1,1243.9 L1076.4,1244.0 L1077.6,1244.2 L1078.7,1244.7 L1079.7,1245.3 L1080.6,1246.1 L1081.5,1247.0 L1082.3,1248.1 L1083.0,1249.2 L1083.6,1250.4 L1084.3,1251.7 L1084.9,1253.0 L1085.5,1254.4 L1086.0,1255.8 L1086.5,1257.2 L1087.1,1258.7 L1087.6,1260.1 L1088.1,1261.6 L1088.6,1263.0 L1089.0,1264.5 L1089.5,1266.0 L1090.0,1267.5 L1090.5,1268.9 L1091.0,1270.4 L1091.4,1271.8 L1091.9,1273.3 L1092.4,1274.8 L1092.9,1276.2 L1093.3,1277.7 L1093.8,1279.1 L1094.3,1280.6 L1094.7,1282.1 L1095.2,1283.5 L1095.6,1285.0 L1096.1,1286.4 L1096.5,1287.8 L1097.0,1289.3 L1097.4,1290.7 L1097.9,1292.2 L1098.3,1293.6 L1098.8,1295.1 L1099.2,1296.5 L1099.7,1297.9 L1100.1,1299.4 L1100.5,1300.8 L1101.0,1302.3 L1101.4,1303.7 L1101.8,1305.1 L1102.3,1306.6 L1102.7,1308.0 L1103.1,1309.4 L1103.5,1310.9 L1103.9,1312.3 L1104.4,1313.7 L1104.8,1315.2 L1105.2,1316.6 L1105.6,1318.0 L1106.0,1319.4 L1106.4,1320.9 L1106.8,1322.3 L1107.2,1323.7 L1107.6,1325.2 L1108.1,1326.6 L1108.5,1328.0 L1108.9,1329.4 L1109.3,1330.9 L1109.6,1332.3 L1110.0,1333.7 L1110.4,1335.1 L1110.8,1336.6 L1111.2,1338.0 L1111.6,1339.4 L1112.0,1340.9 L1112.4,1342.3 L1112.8,1343.7 L1113.1,1345.1 L1113.5,1346.6 L1113.9,1348.0 L1114.3,1349.4 L1114.6,1350.9 L1115.0,1352.3 L1115.4,1353.7 L1115.8,1355.2 L1116.1,1356.6 L1116.5,1358.0 L1116.9,1359.5 L1117.2,1360.9 L1117.6,1362.3 L1118.0,1363.8 L1118.3,1365.2 L1118.7,1366.7 L1119.0,1368.1 L1119.4,1369.5 L1119.7,1371.0 L1120.1,1372.4 L1120.5,1373.9 L1120.8,1375.3 L1121.2,1376.8 L1121.5,1378.2 L1121.8,1379.7 L1122.2,1381.1 L1122.5,1382.6 L1122.9,1384.0 L1123.2,1385.5 L1123.6,1386.9 L1123.9,1388.4 L1124.2,1389.8 L1124.6,1391.3 L1124.9,1392.8 L1125.2,1394.2 L1125.6,1395.7 L1125.9,1397.2 L1126.2,1398.7 L1126.6,1400.1 L1126.9,1401.6 L1127.2,1403.1 L1127.5,1404.6 L1127.9,1406.0 L1128.2,1407.5 L1128.5,1409.0 L1128.8,1410.5 L1129.2,1412.0 L1129.5,1413.5 L1129.8,1415.0 L1130.1,1416.5 L1130.5,1417.9 L1130.8,1419.4 L1131.1,1420.9 L1131.4,1422.4 L1131.8,1423.9 L1132.1,1425.4 L1132.4,1426.9 L1132.8,1428.4 L1133.1,1429.9 L1133.4,1431.4 L1133.8,1432.9 L1134.1,1434.4 L1134.5,1435.9 L1134.8,1437.4 L1135.2,1438.9 L1135.5,1440.3 L1135.9,1441.8 L1136.3,1443.3 L1136.6,1444.8 L1137.0,1446.3 L1137.4,1447.8 L1137.8,1449.2 L1138.2,1450.7 L1138.6,1452.2 L1139.0,1453.6 L1139.4,1455.1 L1139.8,1456.6 L1140.2,1458.0 L1140.7,1459.5 L1141.1,1460.9 L1141.6,1462.4 L1142.0,1463.8 L1142.5,1465.3 L1142.9,1466.7 L1143.4,1468.1 L1143.9,1469.6 L1144.4,1471.0 L1144.9,1472.4 L1145.4,1473.8 L1145.9,1475.2 L1146.5,1476.6 L1147.0,1478.0 L1147.6,1479.4 L1148.1,1480.8 L1148.7,1482.2 L1149.3,1483.6 L1149.9,1484.9 L1150.5,1486.3 L1151.1,1487.7 L1151.7,1489.0 L1152.4,1490.4 L1153.0,1491.7 L1153.7,1493.0 L1154.3,1494.3 L1155.0,1495.7 L1155.7,1497.0 L1156.4,1498.3 L1157.2,1499.6 L1157.9,1500.8 L1158.7,1502.1 L1159.4,1503.4 L1160.2,1504.6 L1161.0,1505.9 L1161.8,1507.1 L1162.6,1508.4 L1163.5,1509.6 L1164.3,1510.8 L1165.2,1512.0 L1166.1,1513.2 L1167.0,1514.4 L1167.9,1515.6 L1168.8,1516.7 L1169.8,1517.9 L1170.7,1519.1 L1171.7,1520.2 L1172.7,1521.3 L1173.7,1522.4 L1174.8,1523.5 L1175.8,1524.6 L1176.9,1525.7 L1177.9,1526.7 L1179.0,1527.7 L1180.1,1528.8 L1181.2,1529.8 L1182.3,1530.7 L1183.5,1531.7 L1184.6,1532.6 L1185.8,1533.6 L1187.0,1534.5 L1188.2,1535.3 L1189.3,1536.2 L1190.6,1537.0 L1191.8,1537.9 L1193.0,1538.6 L1194.2,1539.4 L1195.5,1540.1 L1196.8,1540.8 L1198.0,1541.5 L1199.3,1542.2 L1200.6,1542.8 L1201.9,1543.4 L1203.2,1544.0 L1204.5,1544.6 L1205.8,1545.1 L1207.2,1545.6 L1208.5,1546.1 L1209.9,1546.6 L1211.2,1547.0 L1212.6,1547.4 L1214.0,1547.9 L1215.4,1548.2 L1216.8,1548.6 L1218.2,1548.9 L1219.6,1549.3 L1221.0,1549.6 L1222.4,1549.8 L1223.8,1550.1 L1225.3,1550.4 L1226.7,1550.6 L1228.2,1550.8 L1229.6,1551.0 L1231.1,1551.2 L1232.5,1551.3 L1234.0,1551.5 L1235.5,1551.6 L1237.0,1551.7 L1238.5,1551.9 L1240.0,1551.9 L1241.4,1552.0 L1243.0,1552.1 L1244.5,1552.1 L1246.0,1552.2 L1247.5,1552.2 L1249.0,1552.2 L1250.5,1552.2" stroke="#f00" stroke-width="10.5" stroke-linecap="round" stroke-dasharray="13.5 27.6" stroke-dashoffset="25.76"/>
<path d="M1250.5,1552.2 L1252.1,1552.2 L1253.6,1552.2 L1255.1,1552.2 L1256.7,1552.1 L1258.2,1552.1 L1259.8,1552.0 L1261.3,1552.0 L1262.9,1551.9 L1264.4,1551.8 L1266.0,1551.7 L1267.5,1551.6 L1269.1,1551.5 L1270.7,1551.4 L1272.2,1551.3 L1273.8,1551.2 L1275.4,1551.1 L1277.0,1551.0 L1278.5,1550.8 L1280.1,1550.7 L1281.7,1550.6 L1283.3,1550.4 L1284.8,1550.3 L1286.4,1550.1 L1288.0,1550.0 L1289.6,1549.8 L1291.1,1549.7 L1292.7,1549.5 L1294.3,1549.4 L1295.9,1549.2 L1297.4,1549.1 L1299.0,1549.0 L1300.6,1548.8 L1302.2,1548.7 L1303.7,1548.5 L1305.3,1548.4 L1306.9,1548.2 L1308.5,1548.1 L1310.0,1548.0 L1311.6,1547.8 L1313.2,1547.7 L1314.7,1547.6 L1316.3,1547.5 L1317.9,1547.3 L1319.4,1547.2 L1321.0,1547.1 L1322.5,1547.0 L1324.1,1546.9 L1325.7,1546.8 L1327.2,1546.6 L1328.8,1546.5 L1330.3,1546.4 L1331.9,1546.3 L1333.5,1546.2 L1335.0,1546.1 L1336.6,1546.0 L1338.1,1545.9 L1339.7,1545.8 L1341.2,1545.7 L1342.8,1545.6 L1344.3,1545.5 L1345.9,1545.4 L1347.4,1545.3 L1349.0,1545.2 L1350.5,1545.2 L1352.0,1545.1 L1353.6,1545.0 L1355.1,1544.9 L1356.7,1544.8 L1358.2,1544.7 L1359.7,1544.7 L1361.3,1544.6 L1362.8,1544.5 L1364.4,1544.4 L1365.9,1544.4 L1367.4,1544.3 L1369.0,1544.2 L1370.5,1544.2 L1372.0,1544.1 L1373.6,1544.0 L1375.1,1544.0 L1376.6,1543.9 L1378.2,1543.9 L1379.7,1543.8 L1381.2,1543.8 L1382.7,1543.7 L1384.3,1543.7 L1385.8,1543.6 L1387.3,1543.6 L1388.8,1543.5 L1390.4,1543.5 L1391.9,1543.4 L1393.4,1543.4 L1394.9,1543.3 L1396.4,1543.3 L1398.0,1543.3 L1399.5,1543.2 L1401.0,1543.2 L1402.5,1543.2 L1404.0,1543.1 L1405.6,1543.1 L1407.1,1543.1 L1408.6,1543.0 L1410.1,1543.0 L1411.6,1543.0 L1413.1,1543.0 L1414.6,1542.9 L1416.1,1542.9 L1417.6,1542.9 L1419.2,1542.9 L1420.7,1542.9 L1422.2,1542.9 L1423.7,1542.8 L1425.2,1542.8 L1426.7,1542.8 L1428.2,1542.8 L1429.7,1542.8 L1431.2,1542.8 L1432.7,1542.8 L1434.2,1542.8 L1435.7,1542.8 L1437.2,1542.8 L1438.7,1542.8 L1440.2,1542.8 L1441.7,1542.8 L1443.2,1542.8 L1444.7,1542.8 L1446.2,1542.8 L1447.7,1542.8 L1449.2,1542.8 L1450.7,1542.8 L1452.2,1542.8 L1453.7,1542.9 L1455.1,1542.9 L1456.6,1542.9 L1458.1,1542.9 L1459.6,1542.9 L1461.1,1542.9 L1462.6,1543.0 L1464.1,1543.0 L1465.6,1543.0 L1467.1,1543.0 L1468.5,1543.1 L1470.0,1543.1 L1471.5,1543.1 L1473.0,1543.1 L1474.5,1543.2 L1476.0,1543.2 L1477.4,1543.2 L1478.9,1543.3 L1480.4,1543.3 L1481.9,1543.3 L1483.4,1543.4 L1484.9,1543.4 L1486.3,1543.5 L1487.8,1543.5 L1489.3,1543.5 L1490.8,1543.6 L1492.2,1543.6 L1493.7,1543.7 L1495.2,1543.7 L1496.7,1543.8 L1498.1,1543.8 L1499.6,1543.9 L1501.1,1543.9 L1502.6,1544.0 L1504.0,1544.0 L1505.5,1544.1 L1507.0,1544.1 L1508.4,1544.2 L1509.9,1544.2 L1511.4,1544.3 L1512.9,1544.3 L1514.3,1544.4 L1515.8,1544.5 L1517.3,1544.5 L1518.7,1544.6 L1520.2,1544.6 L1521.7,1544.7 L1523.1,1544.8 L1524.6,1544.8 L1526.0,1544.9 L1527.5,1545.0 L1529.0,1545.0 L1530.4,1545.1 L1531.9,1545.2 L1533.4,1545.3 L1534.8,1545.3 L1536.3,1545.4 L1537.7,1545.5 L1539.2,1545.6 L1540.7,1545.6 L1542.1,1545.7 L1543.6,1545.8 L1545.0,1545.9 L1546.5,1545.9 L1548.0,1546.0 L1549.4,1546.1 L1550.9,1546.2 L1552.3,1546.3 L1553.8,1546.4 L1555.2,1546.4 L1556.7,1546.5 L1558.1,1546.6 L1559.6,1546.7 L1561.1,1546.8 L1562.5,1546.9 L1564.0,1547.0 L1565.4,1547.1 L1566.9,1547.1 L1568.3,1547.2 L1569.8,1547.3 L1571.2,1547.4 L1572.7,1547.5 L1574.1,1547.6 L1575.6,1547.7 L1577.0,1547.8 L1578.5,1547.9 L1579.9,1548.0 L1581.4,1548.1 L1582.8,1548.2 L1584.3,1548.3 L1585.7,1548.4 L1587.1,1548.5 L1588.6,1548.6 L1590.0,1548.7 L1591.5,1548.8 L1592.9,1548.9 L1594.4,1549.0 L1595.8,1549.1 L1597.3,1549.2 L1598.7,1549.3 L1600.2,1549.4 L1601.6,1549.5 L1603.0,1549.6 L1604.5,1549.7 L1605.9,1549.9 L1607.4,1550.0 L1608.8,1550.1 L1610.2,1550.2 L1611.7,1550.3 L1613.1,1550.4 L1614.6,1550.5 L1616.0,1550.6 L1617.5,1550.7 L1618.9,1550.9 L1620.3,1551.0 L1621.8,1551.1 L1623.2,1551.2 L1624.6,1551.3 L1626.1,1551.4 L1627.5,1551.6 L1629.0,1551.7 L1630.4,1551.8 L1631.8,1551.9 L1633.3,1552.0 L1634.7,1552.2 L1636.1,1552.3 L1637.6,1552.4 L1639.0,1552.5 L1640.5,1552.6 L1641.9,1552.8 L1643.3,1552.9 L1644.8,1553.0 L1646.2,1553.1 L1647.6,1553.2 L1649.1,1553.4 L1650.5,1553.5 L1651.9,1553.6 L1653.4,1553.7 L1654.8,1553.9 L1656.2,1554.0 L1657.7,1554.1 L1659.1,1554.2 L1660.5,1554.4 L1662.0,1554.5 L1663.4,1554.6 L1664.8,1554.8 L1666.3,1554.9 L1667.7,1555.0 L1669.1,1555.1 L1670.6,1555.3 L1672.0,1555.4 L1673.4,1555.5 L1674.9,1555.7 L1676.3,1555.8 L1677.7,1555.9 L1679.1,1556.0 L1680.6,1556.2 L1682.0,1556.3 L1683.4,1556.4 L1684.9,1556.6 L1686.3,1556.7 L1687.7,1556.8 L1689.2,1557.0 L1690.6,1557.1 L1692.0,1557.2 L1693.5,1557.4 L1694.9,1557.5 L1696.3,1557.6 L1697.7,1557.8 L1699.2,1557.9 L1700.6,1558.0 L1702.0,1558.2 L1703.5,1558.3 L1704.9,1558.4 L1706.3,1558.6 L1707.7,1558.7 L1709.2,1558.8 L1710.6,1559.0 L1712.0,1559.1 L1713.5,1559.2 L1714.9,1559.4 L1716.3,1559.5 L1717.7,1559.7 L1719.2,1559.8 L1720.6,1559.9 L1722.0,1560.1 L1723.5,1560.2 L1724.9,1560.3 L1726.3,1560.5 L1727.7,1560.6 L1729.2,1560.7 L1730.6,1560.9 L1732.0,1561.0 L1733.5,1561.1 L1734.9,1561.3 L1736.3,1561.4 L1737.7,1561.6 L1739.2,1561.7 L1740.6,1561.8 L1742.0,1562.0 L1743.5,1562.1 L1744.9,1562.2 L1746.3,1562.4 L1747.7,1562.5 L1749.2,1562.6 L1750.6,1562.8 L1752.0,1562.9 L1753.5,1563.0 L1754.9,1563.2 L1756.3,1563.3 L1757.7,1563.5 L1759.2,1563.6 L1760.6,1563.7 L1762.0,1563.9 L1763.5,1564.0 L1764.9,1564.1 L1766.3,1564.3 L1767.7,1564.4 L1769.2,1564.5 L1770.6,1564.7 L1772.0,1564.8 L1773.5,1564.9 L1774.9,1565.1 L1776.3,1565.2 L1777.7,1565.3 L1779.2,1565.5 L1780.6,1565.6 L1782.0,1565.7 L1783.5,1565.9 L1784.9,1566.0 L1786.3,1566.1 L1787.8,1566.3 L1789.2,1566.4 L1790.6,1566.5 L1792.0,1566.7 L1793.5,1566.8 L1794.9,1566.9 L1796.3,1567.0 L1797.8,1567.2 L1799.2,1567.3 L1800.6,1567.4 L1802.1,1567.6 L1803.5,1567.7 L1804.9,1567.8 L1806.4,1568.0 L1807.8,1568.1 L1809.2,1568.2 L1810.7,1568.3 L1812.1,1568.5 L1813.5,1568.6 L1815.0,1568.7 L1816.4,1568.8 L1817.8,1569.0 L1819.3,1569.1 L1820.7,1569.2 L1822.1,1569.3 L1823.6,1569.5 L1825.0,1569.6 L1826.4,1569.7 L1827.9,1569.8 L1829.3,1570.0 L1830.7,1570.1 L1832.2,1570.2 L1833.6,1570.3 L1835.0,1570.4 L1836.5,1570.6 L1837.9,1570.7 L1839.4,1570.8 L1840.8,1570.9 L1842.2,1571.0 L1843.7,1571.2 L1845.1,1571.3 L1846.5,1571.4 L1848.0,1571.5 L1849.4,1571.6 L1850.9,1571.8 L1852.3,1571.9 L1853.7,1572.0 L1855.2,1572.1 L1856.6,1572.2 L1858.1,1572.3 L1859.5,1572.4 L1860.9,1572.5 L1862.4,1572.7 L1863.8,1572.8 L1865.3,1572.9 L1866.7,1573.0 L1868.1,1573.1 L1869.6,1573.2 L1871.0,1573.3 L1872.5,1573.4 L1873.9,1573.5 L1875.4,1573.6 L1876.8,1573.7 L1878.2,1573.8 L1879.7,1574.0 L1881.1,1574.1 L1882.6,1574.2 L1884.0,1574.3 L1885.5,1574.4 L1886.9,1574.5 L1888.4,1574.6 L1889.8,1574.7 L1891.3,1574.8 L1892.7,1574.9 L1894.2,1575.0 L1895.6,1575.1 L1897.1,1575.2 L1898.5,1575.3 L1900.0,1575.3 L1901.4,1575.4 L1902.9,1575.5 L1904.3,1575.6 L1905.8,1575.7 L1907.2,1575.8 L1908.7,1575.9 L1910.1,1576.0 L1911.6,1576.1 L1913.0,1576.2 L1914.5,1576.3 L1915.9,1576.3 L1917.4,1576.4 L1918.8,1576.5 L1920.3,1576.6 L1921.8,1576.7 L1923.2,1576.8 L1924.7,1576.8 L1926.1,1576.9 L1927.6,1577.0 L1929.0,1577.1 L1930.5,1577.2 L1932.0,1577.2 L1933.4,1577.3 L1934.9,1577.4 L1936.3,1577.5 L1937.8,1577.5 L1939.3,1577.6 L1940.7,1577.7 L1942.2,1577.8 L1943.6,1577.8 L1945.1,1577.9 L1946.6,1578.0 L1948.0,1578.0 L1949.5,1578.1 L1951.0,1578.2 L1952.4,1578.2 L1953.9,1578.3 L1955.4,1578.4 L1956.8,1578.4 L1958.3,1578.5 L1959.8,1578.5 L1961.2,1578.6 L1962.7,1578.7 L1964.2,1578.7 L1965.6,1578.8 L1967.1,1578.8 L1968.6,1578.9 L1970.1,1578.9 L1971.5,1579.0 L1973.0,1579.0 L1974.5,1579.1 L1976.0,1579.1 L1977.4,1579.2 L1978.9,1579.2 L1980.4,1579.3 L1981.9,1579.3 L1983.3,1579.4 L1984.8,1579.4 L1986.3,1579.4 L1987.8,1579.5 L1989.3,1579.5 L1990.7,1579.6 L1992.2,1579.6 L1993.7,1579.6 L1995.2,1579.7 L1996.7,1579.7 L1998.1,1579.7 L1999.6,1579.8 L2001.1,1579.8 L2002.6,1579.8 L2004.1,1579.8 L2005.6,1579.9 L2007.1,1579.9 L2008.5,1579.9 L2010.0,1579.9 L2011.5,1580.0 L2013.0,1580.0 L2014.5,1580.0 L2016.0,1580.0 L2017.5,1580.0 L2019.0,1580.1 L2020.5,1580.1 L2022.0,1580.1 L2023.4,1580.1 L2024.9,1580.1 L2026.4,1580.1 L2027.9,1580.1 L2029.4,1580.1 L2030.9,1580.1 L2032.4,1580.1 L2033.9,1580.1 L2035.4,1580.1 L2036.9,1580.1 L2038.4,1580.1 L2039.9,1580.1 L2041.4,1580.1 L2042.9,1580.1 L2044.4,1580.1 L2045.9,1580.1 L2047.4,1580.1 L2048.9,1580.1 L2050.5,1580.1 L2052.0,1580.1 L2053.5,1580.0 L2055.0,1580.0 L2056.5,1580.0 L2058.0,1580.0 L2059.5,1580.0 L2061.0,1579.9 L2062.5,1579.9 L2064.0,1579.9 L2065.6,1579.9 L2067.1,1579.8 L2068.6,1579.8 L2070.1,1579.8 L2071.6,1579.8 L2073.1,1579.7 L2074.7,1579.7 L2076.2,1579.6 L2077.7,1579.6 L2079.2,1579.6 L2080.7,1579.5 L2082.3,1579.5 L2083.8,1579.4 L2085.3,1579.4 L2086.8,1579.3 L2088.4,1579.3 L2089.9,1579.3 L2091.4,1579.2 L2092.9,1579.1 L2094.5,1579.1 L2096.0,1579.0 L2097.5,1579.0 L2099.1,1578.9 L2100.6,1578.9 L2102.1,1578.8 L2103.7,1578.7 L2105.2,1578.7 L2106.7,1578.6 L2108.3,1578.5 L2109.8,1578.5 L2111.3,1578.4 L2112.9,1578.3 L2114.4,1578.2 L2116.0,1578.2 L2117.5,1578.1 L2119.0,1578.0 L2120.6,1577.9 L2122.1,1577.8 L2123.7,1577.7 L2125.2,1577.7 L2126.8,1577.6 L2128.3,1577.5 L2129.9,1577.4 L2131.4,1577.3 L2133.0,1577.2 L2134.5,1577.1 L2136.1,1577.0 L2137.6,1576.9 L2139.2,1576.8 L2140.7,1576.7 L2142.3,1576.6 L2143.8,1576.5 L2145.4,1576.4 L2147.0,1576.2 L2148.5,1576.1 L2150.1,1576.0 L2151.6,1575.9 L2153.2,1575.8 L2154.8,1575.7 L2156.3,1575.5 L2157.9,1575.4 L2159.5,1575.3 L2161.0,1575.2 L2162.6,1575.0 L2164.2,1574.9 L2165.7,1574.8 L2167.3,1574.6 L2168.9,1574.5 L2170.4,1574.4 L2172.0,1574.2 L2173.6,1574.1 L2175.2,1573.9 L2176.8,1573.8 L2178.3,1573.6 L2179.9,1573.5 L2181.5,1573.3 L2183.1,1573.2 L2184.7,1573.0 L2186.2,1572.9 L2187.8,1572.7 L2189.4,1572.5 L2191.0,1572.4 L2192.6,1572.2 L2194.2,1572.0 L2195.8,1571.9 L2197.3,1571.7 L2198.9,1571.5 L2200.5,1571.3 L2202.1,1571.2 L2203.7,1571.0 L2205.3,1570.8 L2206.9,1570.6 L2208.5,1570.4 L2210.1,1570.2 L2211.7,1570.1 L2213.3,1569.9 L2214.9,1569.7 L2216.5,1569.5 L2218.1,1569.3 L2219.7,1569.1 L2221.3,1568.9 L2222.9,1568.7 L2224.5,1568.5 L2226.2,1568.2 L2227.8,1568.0 L2229.4,1567.8 L2231.0,1567.6 L2232.6,1567.4 L2234.2,1567.2 L2235.8,1566.9 L2237.5,1566.7 L2239.1,1566.5 L2240.7,1566.3 L2242.3,1566.0 L2243.9,1565.8 L2245.6,1565.6 L2247.2,1565.3 L2248.8,1565.1 L2250.4,1564.9 L2252.1,1564.6 L2253.7,1564.4 L2255.3,1564.1 L2257.0,1563.9 L2258.6,1563.6 L2260.2,1563.4 L2261.9,1563.1 L2263.5,1562.8 L2265.1,1562.6 L2266.8,1562.3 L2268.4,1562.1 L2270.0,1561.8 L2271.7,1561.5 L2273.3,1561.2 L2275.0,1561.0 L2276.6,1560.7 L2278.3,1560.4 L2279.9,1560.1 L2281.6,1559.9 L2283.2,1559.6 L2284.9,1559.3 L2286.5,1559.0 L2288.2,1558.7 L2289.8,1558.4 L2291.5,1558.1 L2293.1,1557.8 L2294.8,1557.5 L2296.5,1557.2 L2298.1,1556.9 L2299.8,1556.6 L2301.4,1556.3 L2303.1,1555.9 L2304.8,1555.6 L2306.4,1555.3 L2308.1,1555.0 L2309.8,1554.7 L2311.5,1554.3 L2313.1,1554.0 L2314.8,1553.7 L2316.5,1553.3 L2318.2,1553.0 L2319.8,1552.7 L2321.5,1552.3 L2323.2,1552.0 L2324.9,1551.6 L2326.6,1551.3 L2328.2,1550.9 L2329.9,1550.6 L2331.6,1550.2 L2333.3,1549.9 L2335.0,1549.5" stroke="#f00" stroke-width="10.5" stroke-linecap="round" stroke-dasharray="13.5 27.6" stroke-dashoffset="29.29"/>
<path d="M563.1,469.9 L563.6,472.9 L564.1,475.9 L564.6,478.8 L565.2,481.8 L565.7,484.8 L566.3,487.7 L566.9,490.6 L567.5,493.6 L568.1,496.5 L568.7,499.5 L569.4,502.4 L570.0,505.3 L570.7,508.2 L571.4,511.2 L572.0,514.1 L572.7,517.0 L573.4,519.9 L574.1,522.8 L574.9,525.7 L575.6,528.6 L576.3,531.5 L577.1,534.4 L577.8,537.3 L578.6,540.2 L579.4,543.1 L580.1,546.0 L580.9,548.9 L581.7,551.8 L582.5,554.6 L583.3,557.5 L584.1,560.4 L584.9,563.3 L585.7,566.2 L586.5,569.1 L587.3,571.9 L588.1,574.8 L588.9,577.7 L589.7,580.6 L590.5,583.5 L591.4,586.4 L592.2,589.2 L593.0,592.1 L593.8,595.0 L594.6,597.9 L595.4,600.8 L596.2,603.7 L597.0,606.6 L597.8,609.5 L598.6,612.4 L599.4,615.3 L600.2,618.2 L601.0,621.1 L601.8,624.0 L602.5,626.9 L603.3,629.8 L604.1,632.7 L604.9,635.6 L605.6,638.5 L606.4,641.4 L607.2,644.3 L608.0,647.2 L608.8,650.1 L609.6,653.0 L610.4,655.9 L611.2,658.8 L612.0,661.7 L612.8,664.6 L613.6,667.5 L614.5,670.4 L615.3,673.3 L616.2,676.1 L617.1,679.0 L618.0,681.9 L618.9,684.7 L619.8,687.6 L620.8,690.4 L621.7,693.3 L622.7,696.1 L623.7,698.9 L624.7,701.7 L625.8,704.5 L626.8,707.3 L627.9,710.1 L629.0,712.9 L630.2,715.6 L631.3,718.4 L632.5,721.1 L633.7,723.8 L635.0,726.6 L636.2,729.3 L637.5,732.0 L638.8,734.7 L640.1,737.4 L641.4,740.1 L642.8,742.7 L644.1,745.4 L645.4,748.1 L646.7,750.8 L648.0,753.5 L649.3,756.2 L650.5,758.9 L651.8,761.6 L653.0,764.3 L654.2,767.1 L655.4,769.8 L656.5,772.6 L657.7,775.3 L658.8,778.1 L659.8,780.9 L660.9,783.7 L662.0,786.5 L663.0,789.3 L664.0,792.1 L665.1,794.9 L666.1,797.7 L667.1,800.5 L668.1,803.3 L669.1,806.1 L670.1,808.9 L671.2,811.8 L672.2,814.6 L673.2,817.4 L674.3,820.2 L675.3,823.0 L676.4,825.8 L677.5,828.6 L678.6,831.4 L679.8,834.1 L681.0,836.8 L682.2,839.6 L683.5,842.3 L684.8,844.9 L686.2,847.6 L687.6,850.2 L689.1,852.7 L690.6,855.3 L692.2,857.8 L693.9,860.3 L695.6,862.7 L697.3,865.1 L699.1,867.5 L700.9,869.9 L702.7,872.4 L704.4,874.8 L706.2,877.2 L707.9,879.6 L709.6,882.1 L711.3,884.6 L712.9,887.1 L714.5,889.7 L716.0,892.3 L717.4,894.9 L718.9,897.5 L720.3,900.2 L721.7,902.9 L723.0,905.6 L724.4,908.3 L725.7,910.9 L727.1,913.6 L728.4,916.3 L729.8,919.0 L731.1,921.7 L732.5,924.3 L733.9,927.0 L735.3,929.6 L736.8,932.2 L738.3,934.8 L739.8,937.3 L741.3,939.8 L743.0,942.3 L744.6,944.7 L746.4,947.1 L748.1,949.4 L750.0,951.7 L751.9,954.0 L754.0,956.1 L756.0,958.3 L758.2,960.3 L760.3,962.4 L762.6,964.4 L764.8,966.4 L767.1,968.4 L769.4,970.5 L771.8,972.5 L774.1,974.5 L776.4,976.5 L778.8,978.6 L781.1,980.7 L783.4,982.9 L785.6,985.1 L787.9,987.2 L790.2,989.2 L792.5,991.2 L794.8,992.9 L797.2,994.5 L799.6,995.7 L802.1,996.7 L804.7,997.3 L807.4,997.6 L810.2,997.4 L813.1,996.8 L816.0,995.8 L819.0,994.6 L822.0,993.2 L825.0,991.7 L827.9,990.1 L830.8,988.5 L833.6,987.0 L836.3,985.4 L838.9,983.8 L841.4,982.1 L843.8,980.4 L846.1,978.6 L848.3,976.8 L850.5,974.8 L852.5,972.6 L854.4,970.4 L856.3,968.1 L858.1,965.7 L859.8,963.2 L861.5,960.7 L863.2,958.2 L864.9,955.7 L866.5,953.2 L868.1,950.7 L869.7,948.1 L871.2,945.6 L872.8,943.0 L874.3,940.4 L875.8,937.8 L877.2,935.2 L878.7,932.6 L880.1,929.9 L881.5,927.3 L882.8,924.6 L884.2,922.0 L885.5,919.3 L886.8,916.6 L888.1,913.9 L889.4,911.2 L890.7,908.5 L891.9,905.8 L893.1,903.1 L894.3,900.3 L895.5,897.6 L896.6,894.8 L897.8,892.1 L898.9,889.3 L900.0,886.5 L901.1,883.8 L902.2,881.0 L903.2,878.2 L904.3,875.4 L905.3,872.5 L906.3,869.7 L907.3,866.9 L908.3,864.1 L909.3,861.2 L910.3,858.4 L911.2,855.6 L912.1,852.7 L913.1,849.8 L914.0,847.0 L914.9,844.1 L915.8,841.2 L916.6,838.4 L917.5,835.5 L918.4,832.6 L919.2,829.7 L920.0,826.8 L920.9,823.9 L921.7,821.0 L922.5,818.2 L923.3,815.3 L924.1,812.3 L924.9,809.4 L925.6,806.5 L926.4,803.6 L927.2,800.7 L927.9,797.8 L928.7,794.9 L929.4,792.0 L930.2,789.1 L930.9,786.1 L931.6,783.2 L932.3,780.3 L933.1,777.4 L933.8,774.5 L934.5,771.6 L935.2,768.6 L935.9,765.7 L936.6,762.8 L937.3,759.9 L938.0,757.0 L938.7,754.0 L939.3,751.1 L940.0,748.2 L940.7,745.3 L941.3,742.3 L942.0,739.4 L942.6,736.5 L943.3,733.6 L943.9,730.6 L944.6,727.7 L945.2,724.8 L945.8,721.8 L946.5,718.9 L947.1,716.0 L947.7,713.1 L948.3,710.1 L948.9,707.2 L949.6,704.3 L950.2,701.3 L950.8,698.4 L951.4,695.5 L951.9,692.5 L952.5,689.6 L953.1,686.7 L953.7,683.7 L954.3,680.8 L954.8,677.8 L955.4,674.9 L956.0,672.0 L956.5,669.0 L957.1,666.1 L957.7,663.1 L958.2,660.2 L958.7,657.3 L959.3,654.3 L959.8,651.4 L960.4,648.4 L960.9,645.5 L961.4,642.5 L962.0,639.6 L962.5,636.6 L963.0,633.7 L963.5,630.7 L964.0,627.8 L964.5,624.8 L965.1,621.9 L965.6,618.9 L966.1,616.0 L966.6,613.0 L967.1,610.1 L967.5,607.1 L968.0,604.2 L968.5,601.2 L969.0,598.3 L969.5,595.3 L970.0,592.3 L970.4,589.4 L970.9,586.4 L971.4,583.5 L971.9,580.5 L972.3,577.6 L972.8,574.6 L973.2,571.6 L973.7,568.7 L974.2,565.7 L974.6,562.7 L975.1,559.8 L975.5,556.8 L976.0,553.8 L976.4,550.9 L976.8,547.9 L977.3,544.9 L977.7,542.0 L978.1,539.0 L978.6,536.0 L979.0,533.1 L979.4,530.1 L979.9,527.1 L980.3,524.1 L980.7,521.2 L981.1,518.2 L981.6,515.2 L982.0,512.3 L982.4,509.3 L982.8,506.3 L983.2,503.3 L983.7,500.4 L984.1,497.4 L984.5,494.4 L984.9,491.4 L985.3,488.5 L985.7,485.5 L986.1,482.5 L986.5,479.5 L986.9,476.6 L987.3,473.6 L987.7,470.6 L988.1,467.6 L988.6,464.6 L989.0,461.7 L989.4,458.7 L989.8,455.7 L990.2,452.7 L990.6,449.8 L991.0,446.8 L991.4,443.8 L991.8,440.8 L992.2,437.9 L992.6,434.9 L993.0,431.9 L993.4,428.9 L993.8,425.9 L994.2,423.0 L994.6,420.0 L995.0,417.0 L995.4,414.0 L995.8,411.1 L996.2,408.1 L996.6,405.1 L997.0,402.1 L997.4,399.2 L997.8,396.2 L998.2,393.2 L998.6,390.2 L999.0,387.3 L999.4,384.3 L999.8,381.3 L1000.2,378.4 L1000.7,375.4 L1001.1,372.4 L1001.5,369.4 L1001.9,366.5 L1002.3,363.5 L1002.7,360.5 L1003.2,357.6 L1003.6,354.6 L1004.0,351.6 L1004.4,348.7 L1004.8,345.7 L1005.3,342.7 L1005.7,339.8 L1006.1,336.8 L1006.6,333.9 L1007.0,330.9 L1007.4,327.9 L1007.9,325.0 L1008.3,322.0 L1008.7,319.1 L1009.2,316.1 L1009.6,313.1 L1010.1,310.2 L1010.5,307.2 L1011.0,304.3 L1011.4,301.3 L1011.9,298.4 L1012.4,295.4 L1012.8,292.5 L1013.3,289.5 L1013.8,286.6 L1014.2,283.6 L1014.7,280.7 L1015.2,277.7 L1015.7,274.8 L1016.1,271.8 L1016.6,268.9 L1017.1,266.0 L1017.6,263.0 L1018.1,260.1 L1018.6,257.1 L1019.1,254.2 L1019.7,251.3 L1020.2,248.3 L1020.7,245.4 L1021.3,242.4 L1021.9,239.5 L1022.4,236.5 L1023.0,233.6 L1023.6,230.6 L1024.3,227.7 L1024.9,224.7 L1025.6,221.7 L1026.2,218.7 L1026.9,215.8 L1027.7,212.8 L1028.4,209.8 L1029.2,206.8 L1030.0,203.8 L1030.8,200.8 L1031.7,197.9 L1032.6,194.9 L1033.7,192.1 L1034.8,189.4 L1036.1,186.7 L1037.5,184.2 L1039.1,181.8 L1040.9,179.7 L1042.7,178.2 L1044.6,177.6 L1046.5,178.0 L1048.4,179.4 L1050.1,181.6 L1051.8,184.2 L1053.3,187.1 L1054.6,190.3 L1055.8,193.4 L1056.9,196.5 L1057.9,199.5 L1058.7,202.5 L1059.5,205.5 L1060.2,208.4 L1060.8,211.3 L1061.4,214.2 L1061.9,217.1 L1062.5,220.0 L1063.0,222.9 L1063.5,225.8 L1064.1,228.7 L1064.6,231.6 L1065.1,234.5 L1065.6,237.4 L1066.1,240.3 L1066.6,243.3 L1067.1,246.2 L1067.6,249.2 L1068.1,252.1 L1068.5,255.1 L1069.0,258.0 L1069.5,261.0 L1069.9,263.9 L1070.4,266.9 L1070.9,269.9 L1071.3,272.8 L1071.8,275.8 L1072.2,278.8 L1072.6,281.7 L1073.1,284.7 L1073.5,287.7 L1073.9,290.7 L1074.3,293.7 L1074.7,296.6 L1075.2,299.6 L1075.6,302.6 L1076.0,305.6 L1076.4,308.6 L1076.7,311.5 L1077.1,314.5 L1077.5,317.5 L1077.9,320.5 L1078.3,323.5 L1078.6,326.4 L1079.0,329.4 L1079.4,332.4 L1079.7,335.4 L1080.1,338.4 L1080.5,341.4 L1080.8,344.3 L1081.2,347.3 L1081.5,350.3 L1081.8,353.3 L1082.2,356.3 L1082.5,359.2 L1082.8,362.2 L1083.2,365.2 L1083.5,368.2 L1083.8,371.2 L1084.1,374.2 L1084.4,377.1 L1084.8,380.1 L1085.1,383.1 L1085.4,386.1 L1085.7,389.1 L1086.0,392.1 L1086.3,395.1 L1086.6,398.0 L1086.9,401.0 L1087.2,404.0 L1087.5,407.0 L1087.8,410.0 L1088.0,413.0 L1088.3,415.9 L1088.6,418.9 L1088.9,421.9 L1089.2,424.9 L1089.5,427.9 L1089.7,430.9 L1090.0,433.9 L1090.3,436.8 L1090.5,439.8 L1090.8,442.8 L1091.1,445.8 L1091.3,448.8 L1091.6,451.8 L1091.9,454.7 L1092.1,457.7 L1092.4,460.7 L1092.7,463.7 L1092.9,466.7 L1093.2,469.7 L1093.4,472.7 L1093.7,475.6 L1093.9,478.6 L1094.2,481.6 L1094.5,484.6 L1094.7,487.6 L1095.0,490.6 L1095.2,493.6 L1095.5,496.6 L1095.7,499.5 L1096.0,502.5 L1096.2,505.5 L1096.5,508.5 L1096.7,511.5 L1097.0,514.5 L1097.2,517.5 L1097.5,520.4 L1097.7,523.4 L1098.0,526.4 L1098.2,529.4 L1098.5,532.4 L1098.7,535.4 L1099.0,538.4 L1099.2,541.3 L1099.5,544.3 L1099.8,547.3 L1100.0,550.3 L1100.3,553.3 L1100.5,556.3 L1100.8,559.3 L1101.0,562.2 L1101.3,565.2 L1101.6,568.2 L1101.8,571.2 L1102.1,574.2 L1102.3,577.2 L1102.6,580.2 L1102.9,583.2 L1103.1,586.1 L1103.4,589.1 L1103.7,592.1 L1103.9,595.1 L1104.2,598.1 L1104.5,601.1 L1104.7,604.1 L1105.0,607.0 L1105.3,610.0 L1105.6,613.0 L1105.8,616.0 L1106.1,619.0 L1106.4,622.0 L1106.6,625.0 L1106.9,627.9 L1107.2,630.9 L1107.5,633.9 L1107.7,636.9 L1108.0,639.9 L1108.3,642.9 L1108.6,645.9 L1108.9,648.8 L1109.1,651.8 L1109.4,654.8 L1109.7,657.8 L1110.0,660.8 L1110.3,663.8 L1110.5,666.8 L1110.8,669.7 L1111.1,672.7 L1111.4,675.7 L1111.7,678.7 L1112.0,681.7 L1112.2,684.7 L1112.5,687.7 L1112.8,690.6 L1113.1,693.6 L1113.4,696.6 L1113.7,699.6 L1113.9,702.6 L1114.2,705.6 L1114.5,708.6 L1114.8,711.5 L1115.1,714.5 L1115.4,717.5 L1115.7,720.5 L1115.9,723.5 L1116.2,726.5 L1116.5,729.5 L1116.8,732.4 L1117.1,735.4 L1117.4,738.4 L1117.7,741.4 L1117.9,744.4 L1118.2,747.4 L1118.5,750.4 L1118.8,753.3 L1119.1,756.3 L1119.4,759.3 L1119.7,762.3 L1120.0,765.3 L1120.2,768.3 L1120.5,771.3 L1120.8,774.2 L1121.1,777.2 L1121.4,780.2 L1121.7,783.2 L1121.9,786.2 L1122.2,789.2 L1122.5,792.2 L1122.8,795.2 L1123.1,798.1 L1123.4,801.1 L1123.7,804.1 L1123.9,807.1 L1124.2,810.1 L1124.5,813.1 L1124.8,816.1 L1125.1,819.0 L1125.3,822.0 L1125.6,825.0 L1125.9,828.0 L1126.2,831.0 L1126.5,834.0 L1126.7,837.0 L1127.0,839.9 L1127.3,842.9 L1127.6,845.9 L1127.9,848.9 L1128.1,851.9 L1128.4,854.9 L1128.7,857.9 L1129.0,860.9 L1129.2,863.8 L1129.5,866.8 L1129.8,869.8 L1130.0,872.8 L1130.3,875.8 L1130.6,878.8 L1130.9,881.8 L1131.1,884.8 L1131.4,887.7 L1131.7,890.7 L1132.0,893.7 L1132.2,896.7 L1132.5,899.7 L1132.8,902.7 L1133.1,905.7 L1133.4,908.6 L1133.6,911.6 L1133.9,914.6 L1134.2,917.6 L1134.5,920.6 L1134.8,923.6 L1135.1,926.6 L1135.4,929.5 L1135.7,932.5 L1136.0,935.5 L1136.3,938.5 L1136.6,941.5 L1136.9,944.4 L1137.2,947.4 L1137.5,950.4 L1137.8,953.4 L1138.1,956.4 L1138.5,959.3 L1138.8,962.3 L1139.1,965.3 L1139.5,968.3 L1139.8,971.3 L1140.1,974.2 L1140.5,977.2 L1140.8,980.2 L1141.2,983.2 L1141.6,986.1 L1141.9,989.1 L1142.3,992.1 L1142.7,995.1 L1143.1,998.0 L1143.5,1001.0 L1143.8,1004.0 L1144.2,1006.9 L1144.7,1009.9 L1145.1,1012.9 L1145.5,1015.8 L1145.9,1018.8 L1146.3,1021.8 L1146.7,1024.7 L1147.2,1027.7 L1147.6,1030.7 L1148.0,1033.6 L1148.5,1036.6 L1148.9,1039.6 L1149.4,1042.5 L1149.8,1045.5 L1150.3,1048.4 L1150.7,1051.4 L1151.2,1054.4 L1151.6,1057.3 L1152.1,1060.3 L1152.5,1063.3 L1153.0,1066.2 L1153.5,1069.2 L1153.9,1072.1 L1154.4,1075.1 L1154.8,1078.1 L1155.3,1081.0 L1155.8,1084.0 L1156.2,1087.0 L1156.7,1089.9 L1157.1,1092.9 L1157.6,1095.9 L1158.0,1098.8 L1158.5,1101.8 L1158.9,1104.7 L1159.4,1107.7 L1159.8,1110.7 L1160.2,1113.7 L1160.7,1116.6 L1161.1,1119.6 L1161.5,1122.6 L1162.0,1125.5 L1162.4,1128.5 L1162.8,1131.5 L1163.2,1134.4 L1163.6,1137.4 L1164.0,1140.4 L1164.4,1143.4 L1164.8,1146.3 L1165.2,1149.3 L1165.6,1152.3 L1166.0,1155.3 L1166.4,1158.3 L1166.8,1161.2 L1167.2,1164.2 L1167.5,1167.2 L1167.9,1170.2 L1168.3,1173.2 L1168.7,1176.1 L1169.1,1179.1 L1169.4,1182.1 L1169.8,1185.1 L1170.2,1188.0 L1170.6,1191.0 L1171.0,1194.0 L1171.4,1197.0 L1171.8,1200.0 L1172.2,1202.9 L1172.6,1205.9 L1172.9,1208.9 L1173.4,1211.9 L1173.8,1214.8 L1174.2,1217.8 L1174.6,1220.8 L1175.0,1223.7 L1175.4,1226.7 L1175.9,1229.7 L1176.3,1232.7 L1176.7,1235.6 L1177.2,1238.6 L1177.6,1241.5 L1178.1,1244.5 L1178.6,1247.5 L1179.0,1250.4 L1179.5,1253.4 L1180.0,1256.3 L1180.5,1259.3 L1181.0,1262.2 L1181.5,1265.2 L1182.1,1268.1 L1182.6,1271.1 L1183.1,1274.0 L1183.7,1277.0 L1184.3,1279.9 L1184.8,1282.8 L1185.4,1285.8 L1186.0,1288.7 L1186.7,1291.6 L1187.3,1294.6 L1187.9,1297.5 L1188.6,1300.4 L1189.2,1303.3 L1189.9,1306.2 L1190.6,1309.1 L1191.3,1312.1 L1192.0,1315.0 L1192.7,1317.9 L1193.4,1320.8 L1194.2,1323.7 L1194.9,1326.6 L1195.7,1329.5 L1196.5,1332.4 L1197.2,1335.3 L1198.0,1338.1 L1198.8,1341.0 L1199.6,1343.9 L1200.5,1346.8 L1201.3,1349.7 L1202.1,1352.6 L1203.0,1355.4 L1203.8,1358.3 L1204.7,1361.2 L1205.6,1364.1 L1206.5,1366.9 L1207.4,1369.8 L1208.3,1372.7 L1209.2,1375.5 L1210.1,1378.4 L1211.0,1381.3 L1211.9,1384.1 L1212.9,1387.0 L1213.8,1389.8 L1214.8,1392.7 L1215.7,1395.5 L1216.7,1398.4 L1217.7,1401.2 L1218.7,1404.1 L1219.7,1406.9 L1220.7,1409.7 L1221.8,1412.5 L1222.9,1415.3 L1223.9,1418.1 L1225.1,1420.9 L1226.2,1423.7 L1227.3,1426.5 L1228.5,1429.2 L1229.7,1432.0 L1230.9,1434.7 L1232.2,1437.4 L1233.5,1440.1 L1234.8,1442.8 L1236.1,1445.5 L1237.5,1448.1 L1238.9,1450.8 L1240.3,1453.4 L1241.8,1456.0 L1243.3,1458.6 L1244.8,1461.2 L1246.4,1463.8 L1248.0,1466.3 L1249.6,1468.8 L1251.3,1471.3 L1253.0,1473.8 L1254.8,1476.2 L1256.6,1478.6 L1258.4,1481.0 L1260.3,1483.4 L1262.2,1485.7 L1264.2,1488.0 L1266.2,1490.2 L1268.2,1492.4 L1270.3,1494.6 L1272.4,1496.7 L1274.6,1498.8 L1276.8,1500.8 L1279.0,1502.7 L1281.3,1504.7 L1283.6,1506.5 L1286.0,1508.3 L1288.4,1510.1 L1290.8,1511.7 L1293.3,1513.3 L1295.9,1514.9 L1298.4,1516.4 L1301.0,1517.8 L1303.6,1519.2 L1306.3,1520.5 L1309.0,1521.8 L1311.7,1523.0 L1314.5,1524.2 L1317.2,1525.3 L1320.0,1526.4 L1322.9,1527.4 L1325.7,1528.4 L1328.6,1529.3 L1331.4,1530.2 L1334.3,1531.1 L1337.3,1531.9 L1340.2,1532.7 L1343.1,1533.4 L1346.0,1534.1 L1349.0,1534.8 L1351.9,1535.4 L1354.9,1536.0 L1357.9,1536.6 L1360.8,1537.1 L1363.8,1537.7 L1366.8,1538.2 L1369.7,1538.6 L1372.7,1539.1 L1375.7,1539.5 L1378.7,1539.9 L1381.6,1540.2 L1384.6,1540.6 L1387.6,1540.9 L1390.6,1541.2 L1393.6,1541.5 L1396.5,1541.8 L1399.5,1542.0 L1402.5,1542.2 L1405.5,1542.5 L1408.5,1542.7 L1411.5,1542.8 L1414.5,1543.0 L1417.5,1543.2 L1420.4,1543.3 L1423.4,1543.5 L1426.4,1543.6 L1429.4,1543.7 L1432.4,1543.8 L1435.4,1543.9 L1438.4,1544.0 L1441.4,1544.1 L1444.4,1544.2 L1447.4,1544.3 L1450.4,1544.4 L1453.4,1544.5 L1456.4,1544.5 L1459.4,1544.6 L1462.4,1544.7 L1465.4,1544.8 L1468.4,1544.8 L1471.4,1544.9 L1474.4,1545.0 L1477.4,1545.1 L1480.4,1545.1 L1483.4,1545.2 L1486.4,1545.3 L1489.4,1545.3 L1492.4,1545.4 L1495.3,1545.5 L1498.3,1545.5 L1501.3,1545.6 L1504.3,1545.7 L1507.3,1545.7 L1510.3,1545.8 L1513.3,1545.8 L1516.3,1545.9 L1519.3,1546.0 L1522.3,1546.0 L1525.3,1546.1 L1528.3,1546.1 L1531.3,1546.2 L1534.3,1546.3 L1537.3,1546.3 L1540.3,1546.4 L1543.3,1546.4 L1546.3,1546.5 L1549.3,1546.5 L1552.3,1546.6 L1555.3,1546.6 L1558.3,1546.7 L1561.3,1546.7 L1564.3,1546.8 L1567.3,1546.8 L1570.3,1546.9 L1573.3,1546.9 L1576.3,1547.0 L1579.3,1547.0 L1582.3,1547.1 L1585.3,1547.1 L1588.3,1547.2 L1591.3,1547.2 L1594.3,1547.2 L1597.3,1547.3 L1600.3,1547.3 L1603.3,1547.4 L1606.3,1547.4 L1609.3,1547.5 L1612.3,1547.5 L1615.3,1547.5 L1618.3,1547.6 L1621.3,1547.6 L1624.3,1547.6 L1627.2,1547.7 L1630.2,1547.7 L1633.2,1547.8 L1636.2,1547.8 L1639.2,1547.8 L1642.2,1547.9 L1645.2,1547.9 L1648.2,1547.9 L1651.2,1548.0 L1654.2,1548.0 L1657.2,1548.0 L1660.2,1548.0 L1663.2,1548.1 L1666.2,1548.1 L1669.2,1548.1 L1672.2,1548.2 L1675.2,1548.2 L1678.2,1548.2 L1681.2,1548.2 L1684.2,1548.3 L1687.2,1548.3 L1690.2,1548.3 L1693.2,1548.3 L1696.2,1548.4 L1699.2,1548.4 L1702.2,1548.4 L1705.2,1548.4 L1708.2,1548.5 L1711.2,1548.5 L1714.2,1548.5 L1717.2,1548.5 L1720.2,1548.5 L1723.2,1548.6 L1726.2,1548.6 L1729.2,1548.6 L1732.2,1548.6 L1735.2,1548.6 L1738.2,1548.7 L1741.2,1548.7 L1744.2,1548.7 L1747.2,1548.7 L1750.2,1548.7 L1753.2,1548.7 L1756.2,1548.8 L1759.2,1548.8 L1762.2,1548.8 L1765.2,1548.8 L1768.2,1548.8 L1771.2,1548.8 L1774.2,1548.8 L1777.2,1548.8 L1780.2,1548.9 L1783.2,1548.9 L1786.2,1548.9 L1789.2,1548.9 L1792.2,1548.9 L1795.2,1548.9 L1798.2,1548.9 L1801.2,1548.9 L1804.2,1548.9 L1807.2,1549.0 L1810.2,1549.0 L1813.2,1549.0 L1816.2,1549.0 L1819.2,1549.0 L1822.2,1549.0 L1825.2,1549.0 L1828.2,1549.0 L1831.2,1549.0 L1834.2,1549.0 L1837.2,1549.0 L1840.2,1549.0 L1843.2,1549.0 L1846.2,1549.0 L1849.2,1549.0 L1852.2,1549.1 L1855.2,1549.1 L1858.2,1549.1 L1861.2,1549.1 L1864.2,1549.1 L1867.2,1549.1 L1870.2,1549.1 L1873.2,1549.1 L1876.2,1549.1 L1879.2,1549.1 L1882.2,1549.1 L1885.2,1549.1 L1888.2,1549.1 L1891.2,1549.1 L1894.2,1549.1 L1897.2,1549.1 L1900.2,1549.1 L1903.2,1549.1 L1906.2,1549.1 L1909.2,1549.1 L1912.2,1549.1 L1915.2,1549.1 L1918.2,1549.1 L1921.2,1549.1 L1924.2,1549.1 L1927.2,1549.1 L1930.2,1549.1 L1933.2,1549.1 L1936.2,1549.1 L1939.2,1549.1 L1942.2,1549.1 L1945.2,1549.1 L1948.2,1549.1 L1951.2,1549.1 L1954.2,1549.1 L1957.2,1549.1 L1960.2,1549.1 L1963.2,1549.1 L1966.1,1549.1 L1969.1,1549.1 L1972.1,1549.1 L1975.1,1549.1 L1978.1,1549.1 L1981.1,1549.1 L1984.1,1549.1 L1987.1,1549.1 L1990.1,1549.1 L1993.1,1549.1 L1996.1,1549.1 L1999.1,1549.1 L2002.1,1549.1 L2005.1,1549.1 L2008.1,1549.1 L2011.1,1549.1 L2014.1,1549.0 L2017.1,1549.0 L2020.1,1549.0 L2023.1,1549.0 L2026.1,1549.0 L2029.1,1549.0 L2032.1,1549.0 L2035.1,1549.0 L2038.1,1549.0 L2041.1,1549.0 L2044.1,1549.0 L2047.1,1549.0 L2050.1,1549.0 L2053.1,1549.0 L2056.1,1549.0 L2059.1,1549.0 L2062.1,1549.0 L2065.1,1549.0 L2068.1,1549.0 L2071.1,1549.0 L2074.1,1549.0 L2077.1,1549.0 L2080.1,1549.0 L2083.1,1549.0 L2086.1,1549.0 L2089.1,1549.0 L2092.1,1549.0 L2095.1,1549.0 L2098.1,1549.0 L2101.1,1549.0 L2104.1,1549.0 L2107.1,1549.0 L2110.1,1549.0 L2113.1,1549.0 L2116.1,1549.0 L2119.1,1549.0 L2122.1,1549.0 L2125.1,1549.0 L2128.1,1549.0 L2131.1,1549.0 L2134.1,1549.0 L2137.1,1549.0 L2140.1,1549.0 L2143.1,1549.0 L2146.1,1549.0 L2149.1,1549.0 L2152.1,1549.0 L2155.1,1549.0 L2158.1,1549.0 L2161.1,1549.0 L2164.1,1549.0 L2167.1,1549.0 L2170.1,1549.0 L2173.1,1549.0 L2176.1,1549.0 L2179.1,1549.0 L2182.1,1549.0 L2185.1,1549.0 L2188.1,1549.0 L2191.1,1549.0 L2194.1,1549.0 L2197.1,1549.0 L2200.1,1549.0 L2203.1,1549.0 L2206.1,1549.0 L2209.1,1549.1 L2212.1,1549.1 L2215.1,1549.1 L2218.1,1549.1 L2221.1,1549.1 L2224.1,1549.1 L2227.1,1549.1 L2230.1,1549.1 L2233.1,1549.1 L2236.1,1549.1 L2239.1,1549.1 L2242.1,1549.1 L2245.1,1549.1 L2248.1,1549.2 L2251.1,1549.2 L2254.1,1549.2 L2257.0,1549.2 L2260.0,1549.2 L2263.0,1549.2 L2266.0,1549.2 L2269.0,1549.2 L2272.0,1549.2 L2275.0,1549.3 L2278.0,1549.3 L2281.0,1549.3 L2284.0,1549.3 L2287.0,1549.3 L2290.0,1549.3 L2293.0,1549.3 L2296.0,1549.4 L2299.0,1549.4 L2302.0,1549.4 L2305.0,1549.4 L2308.0,1549.4 L2311.0,1549.4 L2314.0,1549.5 L2317.0,1549.5 L2320.0,1549.5 L2323.0,1549.5 L2326.0,1549.5 L2329.0,1549.6 L2332.0,1549.6 L2335.0,1549.6" stroke="#00f" stroke-width="10.6" stroke-linecap="butt"/>
</g>
<g font-size="112">
<text x="381.3" y="1586.3" textLength="139.0" lengthAdjust="spacingAndGlyphs">0.0</text>
<text x="212.3" y="1342.6" textLength="309.9" lengthAdjust="spacingAndGlyphs">200.0k</text>
<text x="214.9" y="1098.9" textLength="306.7" lengthAdjust="spacingAndGlyphs">400.0k</text>
<text x="213.9" y="855.1" textLength="307.6" lengthAdjust="spacingAndGlyphs">600.0k</text>
<text x="217.2" y="611.4" textLength="304.3" lengthAdjust="spacingAndGlyphs">800.0k</text>
<text x="286.7" y="367.7" textLength="238.2" lengthAdjust="spacingAndGlyphs">1.0M</text>
<text x="285.4" y="124" textLength="240.0" lengthAdjust="spacingAndGlyphs">1.2M</text>
</g>
<g font-size="123">
<text x="490.8" y="1693" textLength="150.6" lengthAdjust="spacingAndGlyphs">1.0</text>
<text x="784.6" y="1693" textLength="146.0" lengthAdjust="spacingAndGlyphs">1.5</text>
<text x="1073.0" y="1693" textLength="157.9" lengthAdjust="spacingAndGlyphs">2.0</text>
<text x="1367.6" y="1693" textLength="151.7" lengthAdjust="spacingAndGlyphs">2.5</text>
<text x="1660.4" y="1693" textLength="158.5" lengthAdjust="spacingAndGlyphs">3.0</text>
<text x="1955.4" y="1693" textLength="152.6" lengthAdjust="spacingAndGlyphs">3.5</text>
<text x="2250.5" y="1693" textLength="156.2" lengthAdjust="spacingAndGlyphs">4.0</text>
</g>
<text x="1131.4" y="1839" font-size="124">2θ<tspan dx="4.5"> (degree)</tspan></text>
<text transform="translate(158.3,1214.2) rotate(-90)" font-size="124.4">Intensity (CPS)</text>
<g font-size="87">
<text x="1729.5" y="181.3">(a)</text>
<text x="1729.5" y="288.7">(b)</text>
<text x="1729.5" y="394.7">(c)</text>
<text x="2064" y="181.3" textLength="201.5" lengthAdjust="spacingAndGlyphs">P-123</text>
<text x="2065.5" y="288.7">P-85</text>
<text x="2064" y="394.7" textLength="160" lengthAdjust="spacingAndGlyphs">P-65</text>
</g>
<g fill="none">
<path d="M1847.3,153.5 H2029.5" stroke="#000" stroke-width="10.5" stroke-linecap="round" stroke-dasharray="0 18.2"/>
<path d="M1852.5,260 H2033" stroke="#f00" stroke-width="10.5" stroke-linecap="round" stroke-dasharray="14.3 27"/>
<path d="M1841.8,366.6 H2046.4" stroke="#00f" stroke-width="11"/>
</g>
<g stroke="#000" fill="none">
<path d="M1321.5,435.0 H2229.3 M1321.5,1291.0 H2229.3" stroke-width="4.8"/>
<path d="M1323.0,435.0 V1291.0 M2227.8,435.0 V1291.0" stroke-width="3.0"/>
<path d="M1310,1291 H1323.0 M1316.2,1168.7 H1323.0 M1310,1046.4 H1323.0 M1316.2,924.1 H1323.0 M1310,801.9 H1323.0 M1316.2,679.6 H1323.0 M1310,557.3 H1323.0 M1316.2,435 H1323.0" stroke-width="4.6"/>
<path d="M1339.2,1291.0 V1300 M1419.9,1291.0 V1307.3 M1500.7,1291.0 V1300 M1581.5,1291.0 V1307.3 M1662.3,1291.0 V1300 M1743.1,1291.0 V1307.3 M1823.9,1291.0 V1300 M1904.7,1291.0 V1307.3 M1985.4,1291.0 V1300 M2066.2,1291.0 V1307.3 M2147,1291.0 V1300 M2227.8,1291.0 V1307.3" stroke-width="3.0"/>
</g>
<g clip-path="url(#ic)">
<g fill="none" stroke-linejoin="round" stroke-width="5" transform="translate(1323.0,0) scale(0.6,1) translate(-1323.0,0)">
<path d="M1323.8,1193.8 L1341.5,1193.8 L1356,1189.4 L1372.2,1196.4 L1382.3,1192 L1400,1178.8 L1419,1176.2 L1429.2,1177.1 L1436.5,1180.6 L1446.8,1170.9 L1467.3,1168.3 L1477.5,1171.8 L1487.8,1170.9 L1499.5,1163 L1523,1159.5 L1546.3,1151.6 L1558,1152.5 L1565.3,1141.1 L1577.2,1135.8 L1587.3,1141.1 L1599,1123.5 L1607.8,1105.9 L1616.7,1096.3 L1624,1081.3 L1628.3,1071.7 L1643,1065.5 L1651.7,1058.5 L1660.5,1042.7 L1675.2,1033.9 L1684,1023.4 L1695.7,1029.5 L1707.3,1016.3 L1726.3,1008.4 L1739.5,1012.8 L1748.3,1042.7 L1763,1067.3 L1779,1091.9 L1786.3,1106 L1789.7,1126 L1794.7,1142.3 L1805.3,1156.1 L1816.8,1169.9 L1828.3,1186.4 L1842,1200.1 L1858.2,1211.2 L1874.2,1220.8 L1885.7,1230.4 L1897.2,1240.1 L1910.8,1244.2 L1924.7,1252.5 L1945.3,1258 L1963.7,1262.1 L1986.7,1260.7 L2005,1264.2 L2018.7,1269.7 L2034.8,1266.2 L2057.7,1269.7 L2078.3,1266.2 L2094.5,1271.7 L2119.7,1271.7 L2138,1269 L2179.3,1269 L2193.2,1272.4 L2218.3,1271.7 L2251.3,1269.5 L2295.3,1271.3 L2317.3,1268.9 L2361.5,1270.5 L2389,1269.7 L2405.5,1265.6 L2444,1266.4 L2468.8,1263.1 L2493.7,1263.9 L2510.2,1260.6 L2532.2,1263.9 L2557,1262.3 L2581.7,1268.9 L2598.3,1272.2 L2650.5,1272.2 L2678.2,1275.5 L2705.7,1278.8 L2774.5,1279.6 L2829.7,1282.1" stroke="#000"/>
<path d="M1325.3,1137.5 L1332.7,1156.9 L1341.5,1170.9 L1350.2,1185 L1361.8,1197.3 L1373.7,1211.3 L1382.3,1216.6 L1394.2,1216.6 L1405.8,1227.1 L1420.5,1231.5 L1438,1234.2 L1452.7,1241.2 L1482,1242.1 L1511.2,1240.3 L1540.5,1242.1 L1558,1242.1 L1566.8,1247.3 L1578.5,1242.9 L1610.8,1243.8 L1631.2,1247.3 L1651.7,1243.8 L1669.3,1248.2 L1686.8,1250 L1698.7,1247.3 L1716.2,1241.2 L1727.8,1244.7 L1742.5,1242.1 L1771.8,1238.5 L1784.7,1234.6 L1803,1229.1 L1832.8,1225.6 L1849,1229.1 L1869.5,1220.8 L1888,1225.6 L1904,1225.6 L1913.2,1228.4 L1929.2,1223.6 L1943,1220.1 L1954.5,1231.1 L1970.5,1218 L1986.7,1208.4 L2002.2,1201.4 L2012.2,1188.8 L2019.8,1176 L2033.8,1167.2 L2041.8,1152 L2047,1136 L2054,1120 L2065,1103.7 L2074,1097.7 L2084.5,1096.1 L2093.8,1089.5 L2102.7,1091.5 L2115.7,1104.8 L2124.7,1119.5 L2136.3,1142.6 L2148,1165.8 L2158.3,1184.8 L2167.3,1201 L2174.8,1213.9 L2186.3,1227.7 L2197.7,1238.7 L2211.5,1247 L2225.3,1258 L2234.5,1264.9 L2250.5,1268.3 L2266.5,1271.7 L2289.8,1270.5 L2295.3,1274.6 L2361.5,1275.5 L2405.5,1275.5 L2422,1277.9 L2444,1278.8 L2466.2,1277.1 L2485.3,1281.3 L2526.7,1282.1 L2581.7,1280.4 L2631.3,1277.9 L2645,1282.9 L2664.3,1280.4 L2705.7,1282.9 L2829.7,1282.9" stroke="#f00"/>
<path d="M1468.8,435.3 L1473.2,465.1 L1477.5,500.3 L1483.3,528.4 L1487.8,553 L1492.2,567 L1501,579.3 L1508.3,596.9 L1517,623.2 L1525.8,649.6 L1533.2,672.4 L1542,690 L1552.2,697 L1557.2,701.8 L1563.8,704 L1568.8,712.3 L1574.8,728.1 L1586.5,742.2 L1598.2,732.5 L1609.8,750.9 L1620.2,762.4 L1633.3,764.1 L1642.2,773.8 L1650.8,791.3 L1662.5,800.1 L1672.8,809.8 L1684.5,805.4 L1697.7,819.4 L1709.5,833.5 L1724,840.5 L1738.7,833.5 L1747.5,847.5 L1760.7,851.9 L1769.5,870.4 L1779.7,879.2 L1792.8,873.9 L1806,884.4 L1814.8,892.3 L1825,888 L1833.8,907.3 L1847,906.4 L1867.5,909.9 L1876.3,933.6 L1889.5,925.7 L1899.7,935.4 L1912.8,937.1 L1921.7,944.2 L1932,946.8 L1942.2,959.1 L1953.8,966.1 L1967,968.7 L1978.8,982.8 L1987.5,988 L1999.3,989 L2016.8,998.6 L2028.5,1014.5 L2046.2,1021.5 L2060.8,1032 L2072.5,1046.1 L2081.3,1065.4 L2095.8,1074.2 L2104.7,1086.5 L2112.8,1110.7 L2124.3,1114.8 L2135.8,1110.7 L2145,1135.4 L2156.3,1142.3 L2170.2,1157.5 L2179.3,1154.7 L2193.2,1172.6 L2201.3,1179.6 L2209.2,1191.9 L2223,1187.8 L2236.5,1196.3 L2252.8,1207 L2267.2,1203.3 L2277.5,1206.8 L2289.8,1212.7 L2306.3,1208.6 L2345,1209.4 L2358.7,1220.1 L2402.8,1219.3 L2427.5,1226.7 L2438.5,1222.6 L2457.8,1234.2 L2471.7,1228.4 L2499.2,1236.6 L2532.2,1238.3 L2546,1242.4 L2592.8,1242.4 L2606.5,1247.4 L2631.3,1248.2 L2642.3,1250.7 L2653.3,1247.4 L2667.2,1254 L2713.8,1254 L2719.5,1258.1 L2747,1255.6 L2766.2,1258.1 L2791,1260.6 L2802,1258.1 L2829.7,1261.4" stroke="#00f"/>
</g>
</g>
<g font-size="88">
<text text-anchor="end" transform="translate(1302.2,1317) scale(0.77,1)">0</text>
<text text-anchor="end" transform="translate(1302.2,1072.4) scale(0.77,1)">2000</text>
<text text-anchor="end" transform="translate(1302.2,827.9) scale(0.77,1)">4000</text>
<text text-anchor="end" transform="translate(1302.2,583.3) scale(0.77,1)">6000</text>
<text text-anchor="middle" transform="translate(1419.9,1396) scale(0.77,1)">2.5</text>
<text text-anchor="middle" transform="translate(1581.5,1396) scale(0.77,1)">3.0</text>
<text text-anchor="middle" transform="translate(1743.1,1396) scale(0.77,1)">3.5</text>
<text text-anchor="middle" transform="translate(1904.7,1396) scale(0.77,1)">4.0</text>
<text text-anchor="middle" transform="translate(2066.2,1396) scale(0.77,1)">4.5</text>
<text text-anchor="middle" transform="translate(2227.8,1396) scale(0.77,1)">5.0</text>
</g>
<text transform="translate(1623.5,1493) scale(0.83,1)" font-size="84">2θ (degree)</text>
</svg>
</body></html>
